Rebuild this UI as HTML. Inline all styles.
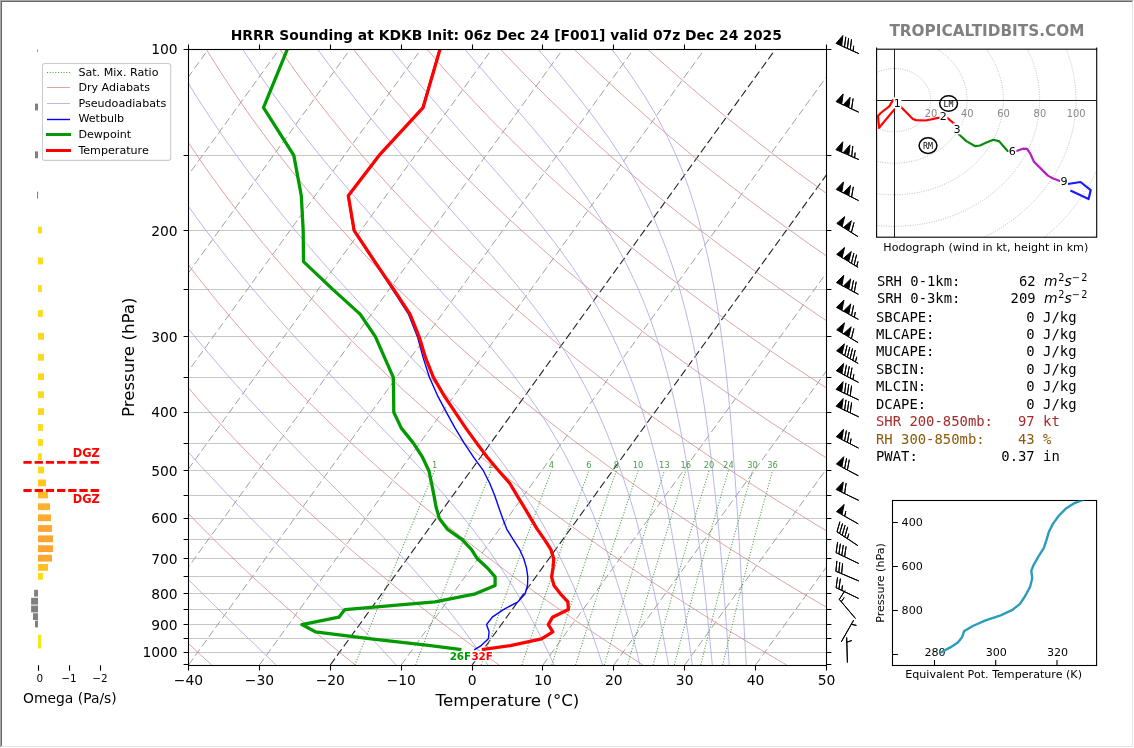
<!DOCTYPE html>
<html><head><meta charset="utf-8"><title>HRRR Sounding at KDKB</title>
<style>html,body{margin:0;padding:0;background:#fff}svg{display:block;will-change:transform;opacity:0.999}</style></head>
<body>
<svg width="1134" height="748" viewBox="0 0 1134 748">
<defs><clipPath id="cm"><rect x="188.5" y="49.17" width="638.0" height="615.83"/></clipPath>
<clipPath id="ch"><rect x="876.6" y="49.2" width="220" height="188"/></clipPath>
<clipPath id="ct"><rect x="892.5" y="500.5" width="204.1" height="165"/></clipPath></defs>
<g clip-path="url(#cm)" fill="none">
<path d="M188.5 155.5H826.5M188.5 230.5H826.5M188.5 289.5H826.5M188.5 336.5H826.5M188.5 377.5H826.5M188.5 412.5H826.5M188.5 443.5H826.5M188.5 470.5H826.5M188.5 495.5H826.5M188.5 518.5H826.5M188.5 539.5H826.5M188.5 558.5H826.5M188.5 576.5H826.5M188.5 593.5H826.5M188.5 609.5H826.5M188.5 624.5H826.5M188.5 638.5H826.5M188.5 652.5H826.5" stroke="#c6c6c6" stroke-width="1"/>
<path d="M-449.5 665.0L-4.3 49.2M-378.6 665.0L66.6 49.2M-307.7 665.0L137.5 49.2M-236.8 665.0L208.4 49.2M-165.9 665.0L279.3 49.2M-95.1 665.0L350.2 49.2M-24.2 665.0L421.1 49.2M46.7 665.0L492.0 49.2M117.6 665.0L562.9 49.2M188.5 665.0L633.7 49.2M259.4 665.0L704.6 49.2M401.2 665.0L846.4 49.2M542.9 665.0L988.2 49.2M613.8 665.0L1059.1 49.2M684.7 665.0L1130.0 49.2M755.6 665.0L1200.9 49.2M826.5 665.0L1271.7 49.2" stroke="#a0a0a0" stroke-width="1" stroke-dasharray="7.9 3.6"/>
<path d="M330.3 665.0L775.5 49.2M472.1 665.0L917.3 49.2" stroke="#222" stroke-width="1.1" stroke-dasharray="7.9 3.6"/>
<path d="M211.7 665.0 L208.9 662.5 L206.1 660.0 L203.4 657.4 L200.6 654.8 L197.7 652.2 L194.9 649.6 L192.1 646.9 L189.2 644.2 L186.4 641.5 L183.5 638.8 L180.6 636.0 L177.7 633.2 L174.7 630.4 L171.8 627.5 L168.8 624.6 L165.8 621.7 L162.8 618.7 L159.8 615.7 L156.8 612.7 L153.7 609.6 L150.6 606.5 L147.5 603.4 L144.4 600.2 L141.3 597.0 L138.2 593.8 L135.0 590.5 L131.8 587.1 L128.6 583.8 L125.4 580.3 L122.1 576.9 L118.8 573.4 L115.6 569.8 L112.2 566.2 L108.9 562.5 L105.5 558.8 L102.1 555.0 L98.7 551.2 L95.3 547.3 L91.8 543.4 L88.4 539.4 L84.9 535.3 L81.3 531.2 L77.8 527.0 L74.2 522.8 L70.5 518.4 L66.9 514.0 L63.2 509.5 L59.5 505.0 L55.8 500.4 L52.0 495.6 L48.2 490.8 L44.4 485.9 L40.5 480.9 L36.6 475.9 L32.7 470.7 L28.8 465.4 L24.8 460.0 L20.7 454.5 L16.7 448.8 L12.5 443.1 L8.4 437.2 L4.2 431.2 L-0.0 425.0 L-4.3 418.7 L-8.6 412.2 L-13.0 405.6 L-17.4 398.8 L-21.8 391.8 L-26.3 384.6 L-30.9 377.3 L-35.4 369.7 L-40.1 361.9 L-44.8 353.8 L-49.5 345.5 L-54.3 336.9 L-59.2 328.0 L-64.1 318.8 L-69.1 309.3 L-74.1 299.4 L-79.2 289.1 L-84.3 278.5 L-89.6 267.3 L-94.8 255.7 L-100.2 243.5 L-105.5 230.7 L-111.0 217.3 L-116.5 203.1 L-122.1 188.1 L-127.7 172.3 L-133.3 155.4 L-139.0 137.3 L-144.7 117.9 L-150.4 96.9 L-156.0 74.1 L-161.6 49.2M355.4 665.0 L352.3 662.5 L349.1 660.0 L345.9 657.4 L342.7 654.8 L339.5 652.2 L336.3 649.6 L333.0 646.9 L329.8 644.2 L326.5 641.5 L323.2 638.8 L319.9 636.0 L316.5 633.2 L313.2 630.4 L309.8 627.5 L306.4 624.6 L303.0 621.7 L299.5 618.7 L296.1 615.7 L292.6 612.7 L289.1 609.6 L285.5 606.5 L282.0 603.4 L278.4 600.2 L274.8 597.0 L271.2 593.8 L267.6 590.5 L263.9 587.1 L260.2 583.8 L256.5 580.3 L252.7 576.9 L249.0 573.4 L245.2 569.8 L241.3 566.2 L237.5 562.5 L233.6 558.8 L229.7 555.0 L225.8 551.2 L221.8 547.3 L217.8 543.4 L213.8 539.4 L209.7 535.3 L205.6 531.2 L201.5 527.0 L197.3 522.8 L193.1 518.4 L188.9 514.0 L184.6 509.5 L180.3 505.0 L176.0 500.4 L171.6 495.6 L167.2 490.8 L162.7 485.9 L158.2 480.9 L153.7 475.9 L149.1 470.7 L144.5 465.4 L139.8 460.0 L135.1 454.5 L130.3 448.8 L125.5 443.1 L120.6 437.2 L115.7 431.2 L110.7 425.0 L105.7 418.7 L100.6 412.2 L95.4 405.6 L90.2 398.8 L85.0 391.8 L79.7 384.6 L74.3 377.3 L68.8 369.7 L63.3 361.9 L57.7 353.8 L52.0 345.5 L46.3 336.9 L40.4 328.0 L34.5 318.8 L28.5 309.3 L22.5 299.4 L16.3 289.1 L10.1 278.5 L3.7 267.3 L-2.7 255.7 L-9.3 243.5 L-15.9 230.7 L-22.7 217.3 L-29.5 203.1 L-36.5 188.1 L-43.6 172.3 L-50.7 155.4 L-58.0 137.3 L-65.4 117.9 L-72.9 96.9 L-80.4 74.1 L-88.0 49.2M499.2 665.0 L495.6 662.5 L492.1 660.0 L488.5 657.4 L484.9 654.8 L481.3 652.2 L477.7 649.6 L474.0 646.9 L470.3 644.2 L466.6 641.5 L462.9 638.8 L459.2 636.0 L455.4 633.2 L451.6 630.4 L447.8 627.5 L444.0 624.6 L440.1 621.7 L436.2 618.7 L432.3 615.7 L428.4 612.7 L424.4 609.6 L420.5 606.5 L416.4 603.4 L412.4 600.2 L408.3 597.0 L404.2 593.8 L400.1 590.5 L396.0 587.1 L391.8 583.8 L387.6 580.3 L383.4 576.9 L379.1 573.4 L374.8 569.8 L370.4 566.2 L366.1 562.5 L361.7 558.8 L357.2 555.0 L352.8 551.2 L348.3 547.3 L343.7 543.4 L339.2 539.4 L334.5 535.3 L329.9 531.2 L325.2 527.0 L320.5 522.8 L315.7 518.4 L310.9 514.0 L306.0 509.5 L301.1 505.0 L296.2 500.4 L291.2 495.6 L286.1 490.8 L281.0 485.9 L275.9 480.9 L270.7 475.9 L265.4 470.7 L260.1 465.4 L254.8 460.0 L249.4 454.5 L243.9 448.8 L238.4 443.1 L232.8 437.2 L227.1 431.2 L221.4 425.0 L215.6 418.7 L209.8 412.2 L203.9 405.6 L197.8 398.8 L191.8 391.8 L185.6 384.6 L179.4 377.3 L173.1 369.7 L166.6 361.9 L160.1 353.8 L153.5 345.5 L146.9 336.9 L140.1 328.0 L133.2 318.8 L126.2 309.3 L119.0 299.4 L111.8 289.1 L104.5 278.5 L97.0 267.3 L89.4 255.7 L81.6 243.5 L73.7 230.7 L65.6 217.3 L57.4 203.1 L49.1 188.1 L40.5 172.3 L31.8 155.4 L22.9 137.3 L13.9 117.9 L4.6 96.9 L-4.8 74.1 L-14.5 49.2M642.9 665.0 L639.0 662.5 L635.1 660.0 L631.1 657.4 L627.1 654.8 L623.1 652.2 L619.0 649.6 L615.0 646.9 L610.9 644.2 L606.8 641.5 L602.6 638.8 L598.5 636.0 L594.3 633.2 L590.1 630.4 L585.8 627.5 L581.6 624.6 L577.3 621.7 L572.9 618.7 L568.6 615.7 L564.2 612.7 L559.8 609.6 L555.4 606.5 L550.9 603.4 L546.4 600.2 L541.9 597.0 L537.3 593.8 L532.7 590.5 L528.1 587.1 L523.4 583.8 L518.7 580.3 L514.0 576.9 L509.2 573.4 L504.4 569.8 L499.6 566.2 L494.7 562.5 L489.8 558.8 L484.8 555.0 L479.8 551.2 L474.8 547.3 L469.7 543.4 L464.6 539.4 L459.4 535.3 L454.2 531.2 L448.9 527.0 L443.6 522.8 L438.3 518.4 L432.9 514.0 L427.4 509.5 L421.9 505.0 L416.3 500.4 L410.7 495.6 L405.1 490.8 L399.3 485.9 L393.6 480.9 L387.7 475.9 L381.8 470.7 L375.8 465.4 L369.8 460.0 L363.7 454.5 L357.5 448.8 L351.3 443.1 L345.0 437.2 L338.6 431.2 L332.1 425.0 L325.6 418.7 L319.0 412.2 L312.3 405.6 L305.5 398.8 L298.6 391.8 L291.6 384.6 L284.5 377.3 L277.3 369.7 L270.0 361.9 L262.6 353.8 L255.1 345.5 L247.5 336.9 L239.7 328.0 L231.8 318.8 L223.8 309.3 L215.6 299.4 L207.3 289.1 L198.9 278.5 L190.2 267.3 L181.4 255.7 L172.5 243.5 L163.3 230.7 L154.0 217.3 L144.4 203.1 L134.6 188.1 L124.6 172.3 L114.4 155.4 L103.9 137.3 L93.1 117.9 L82.1 96.9 L70.7 74.1 L59.1 49.2M786.7 665.0 L782.4 662.5 L778.0 660.0 L773.7 657.4 L769.3 654.8 L764.9 652.2 L760.4 649.6 L755.9 646.9 L751.4 644.2 L746.9 641.5 L742.4 638.8 L737.8 636.0 L733.2 633.2 L728.5 630.4 L723.8 627.5 L719.1 624.6 L714.4 621.7 L709.6 618.7 L704.8 615.7 L700.0 612.7 L695.2 609.6 L690.3 606.5 L685.3 603.4 L680.4 600.2 L675.4 597.0 L670.3 593.8 L665.3 590.5 L660.1 587.1 L655.0 583.8 L649.8 580.3 L644.6 576.9 L639.3 573.4 L634.0 569.8 L628.7 566.2 L623.3 562.5 L617.8 558.8 L612.3 555.0 L606.8 551.2 L601.2 547.3 L595.6 543.4 L590.0 539.4 L584.2 535.3 L578.5 531.2 L572.6 527.0 L566.8 522.8 L560.8 518.4 L554.8 514.0 L548.8 509.5 L542.7 505.0 L536.5 500.4 L530.3 495.6 L524.0 490.8 L517.6 485.9 L511.2 480.9 L504.7 475.9 L498.2 470.7 L491.5 465.4 L484.8 460.0 L478.0 454.5 L471.2 448.8 L464.2 443.1 L457.2 437.2 L450.1 431.2 L442.9 425.0 L435.6 418.7 L428.2 412.2 L420.7 405.6 L413.1 398.8 L405.4 391.8 L397.5 384.6 L389.6 377.3 L381.6 369.7 L373.4 361.9 L365.1 353.8 L356.6 345.5 L348.1 336.9 L339.3 328.0 L330.4 318.8 L321.4 309.3 L312.2 299.4 L302.8 289.1 L293.3 278.5 L283.5 267.3 L273.5 255.7 L263.3 243.5 L252.9 230.7 L242.3 217.3 L231.4 203.1 L220.2 188.1 L208.7 172.3 L197.0 155.4 L184.8 137.3 L172.4 117.9 L159.5 96.9 L146.3 74.1 L132.6 49.2M930.5 665.0 L925.8 662.5 L921.0 660.0 L916.3 657.4 L911.5 654.8 L906.6 652.2 L901.8 649.6 L896.9 646.9 L892.0 644.2 L887.0 641.5 L882.1 638.8 L877.1 636.0 L872.0 633.2 L867.0 630.4 L861.9 627.5 L856.7 624.6 L851.6 621.7 L846.3 618.7 L841.1 615.7 L835.8 612.7 L830.5 609.6 L825.2 606.5 L819.8 603.4 L814.3 600.2 L808.9 597.0 L803.4 593.8 L797.8 590.5 L792.2 587.1 L786.6 583.8 L780.9 580.3 L775.2 576.9 L769.4 573.4 L763.6 569.8 L757.8 566.2 L751.9 562.5 L745.9 558.8 L739.9 555.0 L733.8 551.2 L727.7 547.3 L721.6 543.4 L715.3 539.4 L709.1 535.3 L702.7 531.2 L696.4 527.0 L689.9 522.8 L683.4 518.4 L676.8 514.0 L670.2 509.5 L663.5 505.0 L656.7 500.4 L649.9 495.6 L642.9 490.8 L636.0 485.9 L628.9 480.9 L621.8 475.9 L614.5 470.7 L607.2 465.4 L599.8 460.0 L592.4 454.5 L584.8 448.8 L577.1 443.1 L569.4 437.2 L561.5 431.2 L553.6 425.0 L545.5 418.7 L537.4 412.2 L529.1 405.6 L520.7 398.8 L512.2 391.8 L503.5 384.6 L494.7 377.3 L485.8 369.7 L476.7 361.9 L467.5 353.8 L458.2 345.5 L448.7 336.9 L439.0 328.0 L429.1 318.8 L419.0 309.3 L408.8 299.4 L398.3 289.1 L387.7 278.5 L376.8 267.3 L365.6 255.7 L354.2 243.5 L342.6 230.7 L330.6 217.3 L318.3 203.1 L305.8 188.1 L292.8 172.3 L279.5 155.4 L265.8 137.3 L251.6 117.9 L237.0 96.9 L221.9 74.1 L206.2 49.2M1074.2 665.0 L1069.1 662.5 L1064.0 660.0 L1058.8 657.4 L1053.6 654.8 L1048.4 652.2 L1043.2 649.6 L1037.9 646.9 L1032.5 644.2 L1027.2 641.5 L1021.8 638.8 L1016.4 636.0 L1010.9 633.2 L1005.4 630.4 L999.9 627.5 L994.3 624.6 L988.7 621.7 L983.1 618.7 L977.4 615.7 L971.6 612.7 L965.9 609.6 L960.1 606.5 L954.2 603.4 L948.3 600.2 L942.4 597.0 L936.4 593.8 L930.4 590.5 L924.3 587.1 L918.2 583.8 L912.0 580.3 L905.8 576.9 L899.6 573.4 L893.2 569.8 L886.9 566.2 L880.5 562.5 L874.0 558.8 L867.4 555.0 L860.9 551.2 L854.2 547.3 L847.5 543.4 L840.7 539.4 L833.9 535.3 L827.0 531.2 L820.1 527.0 L813.1 522.8 L806.0 518.4 L798.8 514.0 L791.6 509.5 L784.3 505.0 L776.9 500.4 L769.4 495.6 L761.9 490.8 L754.3 485.9 L746.6 480.9 L738.8 475.9 L730.9 470.7 L722.9 465.4 L714.9 460.0 L706.7 454.5 L698.4 448.8 L690.1 443.1 L681.6 437.2 L673.0 431.2 L664.3 425.0 L655.5 418.7 L646.6 412.2 L637.5 405.6 L628.3 398.8 L618.9 391.8 L609.5 384.6 L599.8 377.3 L590.1 369.7 L580.1 361.9 L570.0 353.8 L559.7 345.5 L549.2 336.9 L538.6 328.0 L527.7 318.8 L516.7 309.3 L505.4 299.4 L493.8 289.1 L482.1 278.5 L470.0 267.3 L457.7 255.7 L445.1 243.5 L432.2 230.7 L418.9 217.3 L405.3 203.1 L391.3 188.1 L376.9 172.3 L362.1 155.4 L346.8 137.3 L330.9 117.9 L314.5 96.9 L297.5 74.1 L279.8 49.2M1218.0 665.0 L1212.5 662.5 L1207.0 660.0 L1201.4 657.4 L1195.8 654.8 L1190.2 652.2 L1184.5 649.6 L1178.8 646.9 L1173.1 644.2 L1167.3 641.5 L1161.5 638.8 L1155.7 636.0 L1149.8 633.2 L1143.9 630.4 L1137.9 627.5 L1131.9 624.6 L1125.8 621.7 L1119.8 618.7 L1113.6 615.7 L1107.5 612.7 L1101.2 609.6 L1095.0 606.5 L1088.7 603.4 L1082.3 600.2 L1075.9 597.0 L1069.5 593.8 L1063.0 590.5 L1056.4 587.1 L1049.8 583.8 L1043.1 580.3 L1036.4 576.9 L1029.7 573.4 L1022.9 569.8 L1016.0 566.2 L1009.0 562.5 L1002.1 558.8 L995.0 555.0 L987.9 551.2 L980.7 547.3 L973.5 543.4 L966.1 539.4 L958.8 535.3 L951.3 531.2 L943.8 527.0 L936.2 522.8 L928.5 518.4 L920.8 514.0 L913.0 509.5 L905.1 505.0 L897.1 500.4 L889.0 495.6 L880.8 490.8 L872.6 485.9 L864.2 480.9 L855.8 475.9 L847.3 470.7 L838.6 465.4 L829.9 460.0 L821.0 454.5 L812.1 448.8 L803.0 443.1 L793.8 437.2 L784.5 431.2 L775.0 425.0 L765.5 418.7 L755.7 412.2 L745.9 405.6 L735.9 398.8 L725.7 391.8 L715.4 384.6 L705.0 377.3 L694.3 369.7 L683.5 361.9 L672.5 353.8 L661.3 345.5 L649.8 336.9 L638.2 328.0 L626.4 318.8 L614.3 309.3 L601.9 299.4 L589.3 289.1 L576.5 278.5 L563.3 267.3 L549.8 255.7 L536.0 243.5 L521.8 230.7 L507.2 217.3 L492.3 203.1 L476.9 188.1 L461.0 172.3 L444.6 155.4 L427.7 137.3 L410.2 117.9 L392.0 96.9 L373.1 74.1 L353.3 49.2M1361.8 665.0 L1355.9 662.5 L1350.0 660.0 L1344.0 657.4 L1338.0 654.8 L1332.0 652.2 L1325.9 649.6 L1319.8 646.9 L1313.6 644.2 L1307.5 641.5 L1301.2 638.8 L1295.0 636.0 L1288.7 633.2 L1282.3 630.4 L1275.9 627.5 L1269.5 624.6 L1263.0 621.7 L1256.5 618.7 L1249.9 615.7 L1243.3 612.7 L1236.6 609.6 L1229.9 606.5 L1223.1 603.4 L1216.3 600.2 L1209.4 597.0 L1202.5 593.8 L1195.5 590.5 L1188.5 587.1 L1181.4 583.8 L1174.3 580.3 L1167.1 576.9 L1159.8 573.4 L1152.5 569.8 L1145.1 566.2 L1137.6 562.5 L1130.1 558.8 L1122.5 555.0 L1114.9 551.2 L1107.2 547.3 L1099.4 543.4 L1091.5 539.4 L1083.6 535.3 L1075.6 531.2 L1067.5 527.0 L1059.4 522.8 L1051.1 518.4 L1042.8 514.0 L1034.4 509.5 L1025.8 505.0 L1017.3 500.4 L1008.6 495.6 L999.8 490.8 L990.9 485.9 L981.9 480.9 L972.8 475.9 L963.6 470.7 L954.3 465.4 L944.9 460.0 L935.4 454.5 L925.7 448.8 L915.9 443.1 L906.0 437.2 L895.9 431.2 L885.8 425.0 L875.4 418.7 L864.9 412.2 L854.3 405.6 L843.5 398.8 L832.5 391.8 L821.4 384.6 L810.1 377.3 L798.6 369.7 L786.8 361.9 L774.9 353.8 L762.8 345.5 L750.4 336.9 L737.8 328.0 L725.0 318.8 L711.9 309.3 L698.5 299.4 L684.8 289.1 L670.9 278.5 L656.5 267.3 L641.9 255.7 L626.8 243.5 L611.4 230.7 L595.6 217.3 L579.3 203.1 L562.5 188.1 L545.1 172.3 L527.2 155.4 L508.7 137.3 L489.4 117.9 L469.5 96.9 L448.6 74.1 L426.9 49.2M1505.5 665.0 L1499.2 662.5 L1492.9 660.0 L1486.6 657.4 L1480.2 654.8 L1473.7 652.2 L1467.3 649.6 L1460.8 646.9 L1454.2 644.2 L1447.6 641.5 L1441.0 638.8 L1434.3 636.0 L1427.5 633.2 L1420.8 630.4 L1413.9 627.5 L1407.1 624.6 L1400.1 621.7 L1393.2 618.7 L1386.2 615.7 L1379.1 612.7 L1372.0 609.6 L1364.8 606.5 L1357.6 603.4 L1350.3 600.2 L1342.9 597.0 L1335.5 593.8 L1328.1 590.5 L1320.6 587.1 L1313.0 583.8 L1305.4 580.3 L1297.7 576.9 L1289.9 573.4 L1282.1 569.8 L1274.2 566.2 L1266.2 562.5 L1258.2 558.8 L1250.1 555.0 L1241.9 551.2 L1233.7 547.3 L1225.3 543.4 L1216.9 539.4 L1208.5 535.3 L1199.9 531.2 L1191.2 527.0 L1182.5 522.8 L1173.7 518.4 L1164.8 514.0 L1155.7 509.5 L1146.6 505.0 L1137.4 500.4 L1128.1 495.6 L1118.7 490.8 L1109.2 485.9 L1099.6 480.9 L1089.8 475.9 L1080.0 470.7 L1070.0 465.4 L1059.9 460.0 L1049.7 454.5 L1039.3 448.8 L1028.8 443.1 L1018.2 437.2 L1007.4 431.2 L996.5 425.0 L985.4 418.7 L974.1 412.2 L962.7 405.6 L951.1 398.8 L939.3 391.8 L927.4 384.6 L915.2 377.3 L902.8 369.7 L890.2 361.9 L877.4 353.8 L864.3 345.5 L851.0 336.9 L837.5 328.0 L823.6 318.8 L809.5 309.3 L795.1 299.4 L780.3 289.1 L765.3 278.5 L749.8 267.3 L734.0 255.7 L717.7 243.5 L701.0 230.7 L683.9 217.3 L666.2 203.1 L648.0 188.1 L629.2 172.3 L609.8 155.4 L589.6 137.3 L568.7 117.9 L546.9 96.9 L524.2 74.1 L500.4 49.2M1649.3 665.0 L1642.6 662.5 L1635.9 660.0 L1629.2 657.4 L1622.4 654.8 L1615.5 652.2 L1608.6 649.6 L1601.7 646.9 L1594.8 644.2 L1587.7 641.5 L1580.7 638.8 L1573.6 636.0 L1566.4 633.2 L1559.2 630.4 L1552.0 627.5 L1544.6 624.6 L1537.3 621.7 L1529.9 618.7 L1522.4 615.7 L1514.9 612.7 L1507.3 609.6 L1499.7 606.5 L1492.0 603.4 L1484.3 600.2 L1476.5 597.0 L1468.6 593.8 L1460.7 590.5 L1452.7 587.1 L1444.6 583.8 L1436.5 580.3 L1428.3 576.9 L1420.0 573.4 L1411.7 569.8 L1403.3 566.2 L1394.8 562.5 L1386.3 558.8 L1377.6 555.0 L1368.9 551.2 L1360.2 547.3 L1351.3 543.4 L1342.3 539.4 L1333.3 535.3 L1324.2 531.2 L1315.0 527.0 L1305.6 522.8 L1296.2 518.4 L1286.7 514.0 L1277.1 509.5 L1267.4 505.0 L1257.6 500.4 L1247.7 495.6 L1237.7 490.8 L1227.5 485.9 L1217.3 480.9 L1206.9 475.9 L1196.4 470.7 L1185.7 465.4 L1174.9 460.0 L1164.0 454.5 L1153.0 448.8 L1141.8 443.1 L1130.4 437.2 L1118.9 431.2 L1107.2 425.0 L1095.4 418.7 L1083.3 412.2 L1071.1 405.6 L1058.7 398.8 L1046.1 391.8 L1033.3 384.6 L1020.3 377.3 L1007.1 369.7 L993.6 361.9 L979.9 353.8 L965.9 345.5 L951.6 336.9 L937.1 328.0 L922.3 318.8 L907.1 309.3 L891.7 299.4 L875.8 289.1 L859.7 278.5 L843.1 267.3 L826.1 255.7 L808.6 243.5 L790.7 230.7 L772.2 217.3 L753.2 203.1 L733.6 188.1 L713.3 172.3 L692.3 155.4 L670.6 137.3 L648.0 117.9 L624.4 96.9 L599.8 74.1 L574.0 49.2M1793.0 665.0 L1786.0 662.5 L1778.9 660.0 L1771.7 657.4 L1764.5 654.8 L1757.3 652.2 L1750.0 649.6 L1742.7 646.9 L1735.3 644.2 L1727.9 641.5 L1720.4 638.8 L1712.9 636.0 L1705.3 633.2 L1697.7 630.4 L1690.0 627.5 L1682.2 624.6 L1674.4 621.7 L1666.6 618.7 L1658.7 615.7 L1650.7 612.7 L1642.7 609.6 L1634.6 606.5 L1626.4 603.4 L1618.2 600.2 L1610.0 597.0 L1601.6 593.8 L1593.2 590.5 L1584.7 587.1 L1576.2 583.8 L1567.6 580.3 L1558.9 576.9 L1550.2 573.4 L1541.3 569.8 L1532.4 566.2 L1523.4 562.5 L1514.3 558.8 L1505.2 555.0 L1496.0 551.2 L1486.6 547.3 L1477.2 543.4 L1467.7 539.4 L1458.1 535.3 L1448.5 531.2 L1438.7 527.0 L1428.8 522.8 L1418.8 518.4 L1408.7 514.0 L1398.5 509.5 L1388.2 505.0 L1377.8 500.4 L1367.3 495.6 L1356.6 490.8 L1345.8 485.9 L1334.9 480.9 L1323.9 475.9 L1312.7 470.7 L1301.4 465.4 L1289.9 460.0 L1278.3 454.5 L1266.6 448.8 L1254.7 443.1 L1242.6 437.2 L1230.3 431.2 L1217.9 425.0 L1205.3 418.7 L1192.5 412.2 L1179.5 405.6 L1166.3 398.8 L1152.9 391.8 L1139.3 384.6 L1125.4 377.3 L1111.3 369.7 L1097.0 361.9 L1082.3 353.8 L1067.4 345.5 L1052.2 336.9 L1036.7 328.0 L1020.9 318.8 L1004.8 309.3 L988.2 299.4 L971.3 289.1 L954.1 278.5 L936.3 267.3 L918.1 255.7 L899.5 243.5 L880.3 230.7 L860.5 217.3 L840.2 203.1 L819.1 188.1 L797.4 172.3 L774.9 155.4 L751.5 137.3 L727.2 117.9 L701.9 96.9 L675.4 74.1 L647.5 49.2" stroke="#d48c8c" stroke-width="0.8"/>
<path d="M276.2 665.0 L273.6 662.5 L270.9 660.0 L268.2 657.4 L265.5 654.8 L262.8 652.2 L260.0 649.6 L257.3 646.9 L254.5 644.2 L251.6 641.5 L248.8 638.8 L245.9 636.0 L243.0 633.2 L240.0 630.4 L237.1 627.5 L234.1 624.6 L231.0 621.7 L228.0 618.7 L224.9 615.7 L221.8 612.7 L218.7 609.6 L215.5 606.5 L212.3 603.4 L209.1 600.2 L205.9 597.0 L202.6 593.8 L199.3 590.5 L196.0 587.1 L192.6 583.8 L189.2 580.3 L185.8 576.9 L182.4 573.4 L178.9 569.8 L175.4 566.2 L171.9 562.5 L168.3 558.8 L164.7 555.0 L161.1 551.2 L157.5 547.3 L153.8 543.4 L150.1 539.4 L146.3 535.3 L142.6 531.2 L138.7 527.0 L134.9 522.8 L131.0 518.4 L127.1 514.0 L123.2 509.5 L119.2 505.0 L115.2 500.4 L111.1 495.6 L107.0 490.8 L102.9 485.9 L98.7 480.9 L94.5 475.9 L90.3 470.7 L86.0 465.4 L81.7 460.0 L77.3 454.5 L72.9 448.8 L68.4 443.1 L63.9 437.2 L59.4 431.2 L54.8 425.0 L50.2 418.7 L45.5 412.2 L40.7 405.6 L35.9 398.8 L31.1 391.8 L26.2 384.6 L21.2 377.3 L16.2 369.7 L11.1 361.9 L6.0 353.8 L0.7 345.5 L-4.5 336.9 L-9.9 328.0 L-15.3 318.8 L-20.7 309.3 L-26.3 299.4 L-31.9 289.1 L-37.6 278.5 L-43.4 267.3 L-49.2 255.7 L-55.1 243.5 L-61.2 230.7 L-67.3 217.3 L-73.4 203.1 L-79.7 188.1 L-86.0 172.3 L-92.4 155.4 L-98.9 137.3 L-105.4 117.9 L-112.0 96.9 L-118.6 74.1 L-125.1 49.2M396.1 665.0 L393.8 662.5 L391.5 660.0 L389.2 657.4 L386.8 654.8 L384.4 652.2 L382.0 649.6 L379.5 646.9 L377.0 644.2 L374.4 641.5 L371.8 638.8 L369.1 636.0 L366.4 633.2 L363.7 630.4 L360.9 627.5 L358.1 624.6 L355.2 621.7 L352.3 618.7 L349.3 615.7 L346.3 612.7 L343.2 609.6 L340.1 606.5 L337.0 603.4 L333.8 600.2 L330.6 597.0 L327.3 593.8 L323.9 590.5 L320.5 587.1 L317.1 583.8 L313.6 580.3 L310.1 576.9 L306.5 573.4 L302.9 569.8 L299.2 566.2 L295.4 562.5 L291.7 558.8 L287.8 555.0 L283.9 551.2 L280.0 547.3 L276.0 543.4 L272.0 539.4 L267.9 535.3 L263.8 531.2 L259.6 527.0 L255.3 522.8 L251.0 518.4 L246.7 514.0 L242.3 509.5 L237.8 505.0 L233.3 500.4 L228.8 495.6 L224.2 490.8 L219.5 485.9 L214.8 480.9 L210.0 475.9 L205.2 470.7 L200.3 465.4 L195.4 460.0 L190.4 454.5 L185.3 448.8 L180.2 443.1 L175.0 437.2 L169.7 431.2 L164.4 425.0 L159.1 418.7 L153.6 412.2 L148.1 405.6 L142.5 398.8 L136.9 391.8 L131.2 384.6 L125.4 377.3 L119.5 369.7 L113.6 361.9 L107.5 353.8 L101.4 345.5 L95.2 336.9 L88.9 328.0 L82.5 318.8 L76.1 309.3 L69.5 299.4 L62.8 289.1 L56.0 278.5 L49.1 267.3 L42.1 255.7 L35.0 243.5 L27.7 230.7 L20.3 217.3 L12.8 203.1 L5.2 188.1 L-2.6 172.3 L-10.6 155.4 L-18.6 137.3 L-26.8 117.9 L-35.2 96.9 L-43.6 74.1 L-52.2 49.2M487.9 665.0 L486.2 662.5 L484.6 660.0 L482.9 657.4 L481.1 654.8 L479.4 652.2 L477.6 649.6 L475.7 646.9 L473.8 644.2 L471.9 641.5 L470.0 638.8 L468.0 636.0 L465.9 633.2 L463.8 630.4 L461.7 627.5 L459.5 624.6 L457.3 621.7 L455.0 618.7 L452.7 615.7 L450.3 612.7 L447.8 609.6 L445.3 606.5 L442.8 603.4 L440.2 600.2 L437.5 597.0 L434.8 593.8 L432.0 590.5 L429.1 587.1 L426.2 583.8 L423.2 580.3 L420.2 576.9 L417.0 573.4 L413.8 569.8 L410.6 566.2 L407.2 562.5 L403.8 558.8 L400.3 555.0 L396.7 551.2 L393.1 547.3 L389.3 543.4 L385.5 539.4 L381.6 535.3 L377.6 531.2 L373.5 527.0 L369.4 522.8 L365.1 518.4 L360.8 514.0 L356.4 509.5 L351.9 505.0 L347.3 500.4 L342.6 495.6 L337.8 490.8 L332.9 485.9 L328.0 480.9 L322.9 475.9 L317.8 470.7 L312.5 465.4 L307.2 460.0 L301.8 454.5 L296.3 448.8 L290.7 443.1 L285.0 437.2 L279.2 431.2 L273.3 425.0 L267.3 418.7 L261.2 412.2 L255.1 405.6 L248.8 398.8 L242.4 391.8 L236.0 384.6 L229.4 377.3 L222.7 369.7 L216.0 361.9 L209.1 353.8 L202.1 345.5 L195.0 336.9 L187.7 328.0 L180.4 318.8 L172.9 309.3 L165.3 299.4 L157.6 289.1 L149.7 278.5 L141.7 267.3 L133.5 255.7 L125.1 243.5 L116.6 230.7 L108.0 217.3 L99.1 203.1 L90.1 188.1 L80.8 172.3 L71.4 155.4 L61.7 137.3 L51.8 117.9 L41.7 96.9 L31.4 74.1 L20.8 49.2M554.0 665.0 L552.9 662.5 L551.8 660.0 L550.6 657.4 L549.4 654.8 L548.2 652.2 L547.0 649.6 L545.7 646.9 L544.4 644.2 L543.1 641.5 L541.8 638.8 L540.4 636.0 L539.0 633.2 L537.6 630.4 L536.1 627.5 L534.6 624.6 L533.0 621.7 L531.4 618.7 L529.8 615.7 L528.2 612.7 L526.5 609.6 L524.7 606.5 L522.9 603.4 L521.1 600.2 L519.2 597.0 L517.2 593.8 L515.2 590.5 L513.2 587.1 L511.1 583.8 L508.9 580.3 L506.7 576.9 L504.4 573.4 L502.1 569.8 L499.6 566.2 L497.1 562.5 L494.6 558.8 L491.9 555.0 L489.2 551.2 L486.4 547.3 L483.5 543.4 L480.5 539.4 L477.4 535.3 L474.2 531.2 L470.9 527.0 L467.6 522.8 L464.1 518.4 L460.5 514.0 L456.7 509.5 L452.9 505.0 L448.9 500.4 L444.9 495.6 L440.6 490.8 L436.3 485.9 L431.8 480.9 L427.2 475.9 L422.4 470.7 L417.5 465.4 L412.5 460.0 L407.3 454.5 L401.9 448.8 L396.4 443.1 L390.8 437.2 L384.9 431.2 L379.0 425.0 L372.8 418.7 L366.5 412.2 L360.1 405.6 L353.5 398.8 L346.7 391.8 L339.8 384.6 L332.7 377.3 L325.5 369.7 L318.1 361.9 L310.5 353.8 L302.8 345.5 L294.9 336.9 L286.8 328.0 L278.6 318.8 L270.2 309.3 L261.6 299.4 L252.9 289.1 L243.9 278.5 L234.8 267.3 L225.5 255.7 L216.0 243.5 L206.2 230.7 L196.3 217.3 L186.1 203.1 L175.6 188.1 L164.9 172.3 L153.9 155.4 L142.7 137.3 L131.1 117.9 L119.2 96.9 L106.9 74.1 L94.3 49.2M602.5 665.0 L601.7 662.5 L600.9 660.0 L600.1 657.4 L599.2 654.8 L598.4 652.2 L597.5 649.6 L596.6 646.9 L595.7 644.2 L594.8 641.5 L593.8 638.8 L592.9 636.0 L591.9 633.2 L590.9 630.4 L589.8 627.5 L588.8 624.6 L587.7 621.7 L586.6 618.7 L585.4 615.7 L584.3 612.7 L583.1 609.6 L581.9 606.5 L580.6 603.4 L579.3 600.2 L578.0 597.0 L576.7 593.8 L575.3 590.5 L573.9 587.1 L572.4 583.8 L570.9 580.3 L569.3 576.9 L567.7 573.4 L566.1 569.8 L564.4 566.2 L562.6 562.5 L560.8 558.8 L559.0 555.0 L557.1 551.2 L555.1 547.3 L553.1 543.4 L551.0 539.4 L548.8 535.3 L546.6 531.2 L544.3 527.0 L541.9 522.8 L539.4 518.4 L536.8 514.0 L534.1 509.5 L531.3 505.0 L528.3 500.4 L525.3 495.6 L522.2 490.8 L518.9 485.9 L515.5 480.9 L511.9 475.9 L508.2 470.7 L504.4 465.4 L500.4 460.0 L496.2 454.5 L491.9 448.8 L487.3 443.1 L482.6 437.2 L477.6 431.2 L472.5 425.0 L467.1 418.7 L461.5 412.2 L455.6 405.6 L449.5 398.8 L443.2 391.8 L436.6 384.6 L429.8 377.3 L422.7 369.7 L415.3 361.9 L407.6 353.8 L399.7 345.5 L391.5 336.9 L383.1 328.0 L374.5 318.8 L365.5 309.3 L356.3 299.4 L346.9 289.1 L337.1 278.5 L327.1 267.3 L316.8 255.7 L306.3 243.5 L295.4 230.7 L284.3 217.3 L272.8 203.1 L261.0 188.1 L248.9 172.3 L236.4 155.4 L223.6 137.3 L210.4 117.9 L196.7 96.9 L182.7 74.1 L168.1 49.2M640.0 665.0 L639.4 662.5 L638.8 660.0 L638.2 657.4 L637.5 654.8 L636.9 652.2 L636.2 649.6 L635.5 646.9 L634.8 644.2 L634.1 641.5 L633.4 638.8 L632.7 636.0 L632.0 633.2 L631.2 630.4 L630.4 627.5 L629.7 624.6 L628.9 621.7 L628.0 618.7 L627.2 615.7 L626.3 612.7 L625.5 609.6 L624.6 606.5 L623.6 603.4 L622.7 600.2 L621.7 597.0 L620.8 593.8 L619.7 590.5 L618.7 587.1 L617.6 583.8 L616.6 580.3 L615.4 576.9 L614.3 573.4 L613.1 569.8 L611.9 566.2 L610.6 562.5 L609.3 558.8 L608.1 555.0 L606.8 551.2 L605.4 547.3 L604.0 543.4 L602.6 539.4 L601.1 535.3 L599.6 531.2 L598.0 527.0 L596.4 522.8 L594.6 518.4 L592.9 514.0 L591.0 509.5 L589.1 505.0 L587.1 500.4 L585.0 495.6 L582.9 490.8 L580.6 485.9 L578.2 480.9 L575.8 475.9 L573.2 470.7 L570.5 465.4 L567.8 460.0 L564.9 454.5 L561.8 448.8 L558.6 443.1 L555.2 437.2 L551.6 431.2 L547.9 425.0 L543.9 418.7 L539.7 412.2 L535.3 405.6 L530.6 398.8 L525.7 391.8 L520.4 384.6 L514.9 377.3 L509.0 369.7 L502.8 361.9 L496.2 353.8 L489.3 345.5 L481.9 336.9 L474.2 328.0 L466.0 318.8 L457.4 309.3 L448.4 299.4 L438.9 289.1 L429.0 278.5 L418.6 267.3 L407.8 255.7 L396.6 243.5 L384.9 230.7 L372.8 217.3 L360.3 203.1 L347.3 188.1 L333.8 172.3 L319.9 155.4 L305.5 137.3 L290.6 117.9 L275.2 96.9 L259.2 74.1 L242.6 49.2M668.6 665.0 L668.1 662.5 L667.7 660.0 L667.2 657.4 L666.7 654.8 L666.2 652.2 L665.7 649.6 L665.2 646.9 L664.7 644.2 L664.2 641.5 L663.7 638.8 L663.2 636.0 L662.6 633.2 L662.1 630.4 L661.5 627.5 L660.9 624.6 L660.3 621.7 L659.7 618.7 L659.1 615.7 L658.5 612.7 L657.9 609.6 L657.2 606.5 L656.6 603.4 L655.9 600.2 L655.2 597.0 L654.5 593.8 L653.8 590.5 L653.0 587.1 L652.2 583.8 L651.5 580.3 L650.7 576.9 L649.8 573.4 L649.0 569.8 L648.1 566.2 L647.3 562.5 L646.3 558.8 L645.4 555.0 L644.5 551.2 L643.5 547.3 L642.5 543.4 L641.5 539.4 L640.5 535.3 L639.4 531.2 L638.2 527.0 L637.1 522.8 L635.8 518.4 L634.6 514.0 L633.3 509.5 L631.9 505.0 L630.5 500.4 L629.1 495.6 L627.5 490.8 L625.9 485.9 L624.3 480.9 L622.6 475.9 L620.7 470.7 L618.9 465.4 L617.1 460.0 L615.1 454.5 L613.0 448.8 L610.8 443.1 L608.5 437.2 L606.0 431.2 L603.5 425.0 L600.7 418.7 L597.8 412.2 L594.7 405.6 L591.4 398.8 L587.9 391.8 L584.2 384.6 L580.2 377.3 L575.9 369.7 L571.3 361.9 L566.4 353.8 L561.1 345.5 L555.5 336.9 L549.4 328.0 L542.9 318.8 L535.8 309.3 L528.2 299.4 L520.1 289.1 L511.3 278.5 L501.9 267.3 L491.8 255.7 L481.0 243.5 L469.5 230.7 L457.5 217.3 L444.7 203.1 L431.2 188.1 L417.0 172.3 L402.2 155.4 L386.7 137.3 L370.5 117.9 L353.6 96.9 L336.0 74.1 L317.6 49.2M692.3 665.0 L692.0 662.5 L691.6 660.0 L691.3 657.4 L690.9 654.8 L690.6 652.2 L690.2 649.6 L689.9 646.9 L689.5 644.2 L689.1 641.5 L688.7 638.8 L688.4 636.0 L688.0 633.2 L687.6 630.4 L687.1 627.5 L686.7 624.6 L686.3 621.7 L685.9 618.7 L685.4 615.7 L685.0 612.7 L684.5 609.6 L684.1 606.5 L683.6 603.4 L683.1 600.2 L682.6 597.0 L682.1 593.8 L681.6 590.5 L681.1 587.1 L680.6 583.8 L680.0 580.3 L679.4 576.9 L678.9 573.4 L678.3 569.8 L677.7 566.2 L677.0 562.5 L676.4 558.8 L675.8 555.0 L675.1 551.2 L674.4 547.3 L673.8 543.4 L673.0 539.4 L672.3 535.3 L671.6 531.2 L670.8 527.0 L670.0 522.8 L669.1 518.4 L668.3 514.0 L667.4 509.5 L666.4 505.0 L665.5 500.4 L664.5 495.6 L663.4 490.8 L662.3 485.9 L661.2 480.9 L660.0 475.9 L658.8 470.7 L657.5 465.4 L656.2 460.0 L654.8 454.5 L653.3 448.8 L651.8 443.1 L650.2 437.2 L648.4 431.2 L646.6 425.0 L644.7 418.7 L642.7 412.2 L640.5 405.6 L638.2 398.8 L635.8 391.8 L633.1 384.6 L630.3 377.3 L627.3 369.7 L624.1 361.9 L620.6 353.8 L616.9 345.5 L612.8 336.9 L608.5 328.0 L603.7 318.8 L598.6 309.3 L593.0 299.4 L586.8 289.1 L580.0 278.5 L572.6 267.3 L564.4 255.7 L555.4 243.5 L545.4 230.7 L534.8 217.3 L523.1 203.1 L510.4 188.1 L496.6 172.3 L481.7 155.4 L465.7 137.3 L448.6 117.9 L430.5 96.9 L411.4 74.1 L391.2 49.2M712.3 665.0 L712.1 662.5 L711.8 660.0 L711.6 657.4 L711.3 654.8 L711.1 652.2 L710.8 649.6 L710.5 646.9 L710.3 644.2 L710.0 641.5 L709.7 638.8 L709.4 636.0 L709.2 633.2 L708.9 630.4 L708.6 627.5 L708.3 624.6 L708.0 621.7 L707.7 618.7 L707.4 615.7 L707.1 612.7 L706.7 609.6 L706.4 606.5 L706.1 603.4 L705.7 600.2 L705.4 597.0 L705.0 593.8 L704.7 590.5 L704.3 587.1 L703.9 583.8 L703.6 580.3 L703.2 576.9 L702.8 573.4 L702.4 569.8 L701.9 566.2 L701.5 562.5 L701.1 558.8 L700.6 555.0 L700.1 551.2 L699.6 547.3 L699.0 543.4 L698.5 539.4 L697.9 535.3 L697.3 531.2 L696.8 527.0 L696.1 522.8 L695.5 518.4 L694.9 514.0 L694.2 509.5 L693.5 505.0 L692.8 500.4 L692.0 495.6 L691.3 490.8 L690.5 485.9 L689.6 480.9 L688.8 475.9 L687.9 470.7 L687.0 465.4 L686.1 460.0 L685.1 454.5 L684.1 448.8 L683.0 443.1 L681.9 437.2 L680.7 431.2 L679.5 425.0 L678.2 418.7 L676.8 412.2 L675.3 405.6 L673.8 398.8 L672.1 391.8 L670.3 384.6 L668.4 377.3 L666.4 369.7 L664.2 361.9 L661.8 353.8 L659.2 345.5 L656.4 336.9 L653.4 328.0 L650.2 318.8 L646.6 309.3 L642.6 299.4 L638.3 289.1 L633.4 278.5 L628.1 267.3 L622.1 255.7 L615.4 243.5 L607.8 230.7 L599.8 217.3 L590.6 203.1 L580.2 188.1 L568.5 172.3 L555.3 155.4 L540.5 137.3 L524.0 117.9 L505.8 96.9 L486.0 74.1 L464.6 49.2M729.2 665.0 L729.0 662.5 L728.9 660.0 L728.7 657.4 L728.5 654.8 L728.3 652.2 L728.1 649.6 L727.9 646.9 L727.8 644.2 L727.6 641.5 L727.4 638.8 L727.2 636.0 L727.0 633.2 L726.8 630.4 L726.6 627.5 L726.3 624.6 L726.1 621.7 L725.9 618.7 L725.7 615.7 L725.5 612.7 L725.3 609.6 L725.0 606.5 L724.8 603.4 L724.6 600.2 L724.3 597.0 L724.1 593.8 L723.8 590.5 L723.6 587.1 L723.3 583.8 L723.1 580.3 L722.8 576.9 L722.5 573.4 L722.2 569.8 L722.0 566.2 L721.7 562.5 L721.4 558.8 L721.0 555.0 L720.7 551.2 L720.3 547.3 L720.0 543.4 L719.6 539.4 L719.2 535.3 L718.9 531.2 L718.5 527.0 L718.0 522.8 L717.6 518.4 L717.2 514.0 L716.7 509.5 L716.3 505.0 L715.8 500.4 L715.3 495.6 L714.8 490.8 L714.2 485.9 L713.7 480.9 L713.1 475.9 L712.5 470.7 L711.9 465.4 L711.3 460.0 L710.7 454.5 L710.0 448.8 L709.3 443.1 L708.6 437.2 L707.8 431.2 L707.0 425.0 L706.1 418.7 L705.2 412.2 L704.2 405.6 L703.2 398.8 L702.0 391.8 L700.9 384.6 L699.6 377.3 L698.2 369.7 L696.8 361.9 L695.2 353.8 L693.5 345.5 L691.7 336.9 L689.7 328.0 L687.5 318.8 L685.1 309.3 L682.5 299.4 L679.6 289.1 L676.4 278.5 L672.8 267.3 L668.8 255.7 L664.2 243.5 L659.0 230.7 L653.4 217.3 L646.9 203.1 L639.3 188.1 L630.5 172.3 L620.3 155.4 L608.3 137.3 L594.3 117.9 L578.0 96.9 L559.3 74.1 L538.1 49.2M746.3 665.0 L746.1 662.5 L746.0 660.0 L745.8 657.4 L745.7 654.8 L745.5 652.2 L745.4 649.6 L745.2 646.9 L745.1 644.2 L744.9 641.5 L744.7 638.8 L744.6 636.0 L744.4 633.2 L744.3 630.4 L744.1 627.5 L743.9 624.6 L743.8 621.7 L743.6 618.7 L743.4 615.7 L743.3 612.7 L743.1 609.6 L742.9 606.5 L742.7 603.4 L742.5 600.2 L742.4 597.0 L742.2 593.8 L742.0 590.5 L741.8 587.1 L741.6 583.8 L741.4 580.3 L741.2 576.9 L741.0 573.4 L740.8 569.8 L740.6 566.2 L740.4 562.5 L740.1 558.8 L739.9 555.0 L739.7 551.2 L739.5 547.3 L739.3 543.4 L739.0 539.4 L738.8 535.3 L738.5 531.2 L738.3 527.0 L738.0 522.8 L737.8 518.4 L737.5 514.0 L737.2 509.5 L736.9 505.0 L736.6 500.4 L736.3 495.6 L736.0 490.8 L735.6 485.9 L735.3 480.9 L734.9 475.9 L734.5 470.7 L734.2 465.4 L733.8 460.0 L733.4 454.5 L733.0 448.8 L732.6 443.1 L732.1 437.2 L731.7 431.2 L731.2 425.0 L730.6 418.7 L730.1 412.2 L729.5 405.6 L728.8 398.8 L728.1 391.8 L727.4 384.6 L726.6 377.3 L725.8 369.7 L724.9 361.9 L723.9 353.8 L722.8 345.5 L721.6 336.9 L720.4 328.0 L719.2 318.8 L717.7 309.3 L716.1 299.4 L714.4 289.1 L712.4 278.5 L710.1 267.3 L707.6 255.7 L704.7 243.5 L701.4 230.7 L697.9 217.3 L693.7 203.1 L688.8 188.1 L683.0 172.3 L676.1 155.4 L667.7 137.3 L657.6 117.9 L645.2 96.9 L630.1 74.1 L611.8 49.2" stroke="#a4a4e4" stroke-width="0.8"/>
<path d="M354.8 665.0 L355.8 662.5 L356.8 660.0 L357.8 657.4 L358.8 654.8 L359.9 652.2 L360.9 649.6 L362.0 646.9 L363.1 644.2 L364.2 641.5 L365.3 638.8 L366.4 636.0 L367.5 633.2 L368.7 630.4 L369.8 627.5 L371.0 624.6 L372.2 621.7 L373.4 618.7 L374.6 615.7 L375.8 612.7 L377.0 609.6 L378.3 606.5 L379.6 603.4 L380.9 600.2 L382.2 597.0 L383.5 593.8 L384.9 590.5 L386.2 587.1 L387.6 583.8 L389.0 580.3 L390.4 576.9 L391.9 573.4 L393.3 569.8 L394.8 566.2 L396.3 562.5 L397.9 558.8 L399.4 555.0 L401.0 551.2 L402.6 547.3 L404.2 543.4 L405.9 539.4 L407.6 535.3 L409.3 531.2 L411.0 527.0 L412.8 522.8 L414.6 518.4 L416.4 514.0 L418.3 509.5 L420.2 505.0 L422.2 500.4 L424.1 495.6 L426.2 490.8 L428.2 485.9 L430.3 480.9 L432.5 475.9 L434.7 470.7M415.7 665.0 L416.6 662.5 L417.6 660.0 L418.5 657.4 L419.5 654.8 L420.5 652.2 L421.5 649.6 L422.5 646.9 L423.5 644.2 L424.5 641.5 L425.5 638.8 L426.6 636.0 L427.6 633.2 L428.7 630.4 L429.8 627.5 L430.9 624.6 L432.0 621.7 L433.1 618.7 L434.3 615.7 L435.4 612.7 L436.6 609.6 L437.8 606.5 L439.0 603.4 L440.2 600.2 L441.4 597.0 L442.7 593.8 L443.9 590.5 L445.2 587.1 L446.5 583.8 L447.8 580.3 L449.2 576.9 L450.5 573.4 L451.9 569.8 L453.3 566.2 L454.7 562.5 L456.2 558.8 L457.7 555.0 L459.2 551.2 L460.7 547.3 L462.2 543.4 L463.8 539.4 L465.4 535.3 L467.0 531.2 L468.6 527.0 L470.3 522.8 L472.0 518.4 L473.7 514.0 L475.5 509.5 L477.3 505.0 L479.2 500.4 L481.0 495.6 L482.9 490.8 L484.9 485.9 L486.9 480.9 L488.9 475.9 L491.0 470.7M481.2 665.0 L482.1 662.5 L483.0 660.0 L483.9 657.4 L484.7 654.8 L485.7 652.2 L486.6 649.6 L487.5 646.9 L488.4 644.2 L489.4 641.5 L490.3 638.8 L491.3 636.0 L492.3 633.2 L493.3 630.4 L494.3 627.5 L495.3 624.6 L496.4 621.7 L497.4 618.7 L498.5 615.7 L499.5 612.7 L500.6 609.6 L501.7 606.5 L502.8 603.4 L504.0 600.2 L505.1 597.0 L506.3 593.8 L507.5 590.5 L508.6 587.1 L509.9 583.8 L511.1 580.3 L512.3 576.9 L513.6 573.4 L514.9 569.8 L516.2 566.2 L517.5 562.5 L518.9 558.8 L520.2 555.0 L521.6 551.2 L523.0 547.3 L524.5 543.4 L525.9 539.4 L527.4 535.3 L528.9 531.2 L530.5 527.0 L532.0 522.8 L533.6 518.4 L535.3 514.0 L536.9 509.5 L538.6 505.0 L540.3 500.4 L542.1 495.6 L543.9 490.8 L545.7 485.9 L547.6 480.9 L549.5 475.9 L551.4 470.7M521.9 665.0 L522.7 662.5 L523.5 660.0 L524.4 657.4 L525.2 654.8 L526.1 652.2 L526.9 649.6 L527.8 646.9 L528.7 644.2 L529.6 641.5 L530.5 638.8 L531.5 636.0 L532.4 633.2 L533.3 630.4 L534.3 627.5 L535.3 624.6 L536.2 621.7 L537.2 618.7 L538.2 615.7 L539.3 612.7 L540.3 609.6 L541.3 606.5 L542.4 603.4 L543.5 600.2 L544.6 597.0 L545.7 593.8 L546.8 590.5 L547.9 587.1 L549.1 583.8 L550.3 580.3 L551.5 576.9 L552.7 573.4 L553.9 569.8 L555.1 566.2 L556.4 562.5 L557.7 558.8 L559.0 555.0 L560.3 551.2 L561.7 547.3 L563.0 543.4 L564.4 539.4 L565.9 535.3 L567.3 531.2 L568.8 527.0 L570.3 522.8 L571.8 518.4 L573.3 514.0 L574.9 509.5 L576.5 505.0 L578.2 500.4 L579.9 495.6 L581.6 490.8 L583.3 485.9 L585.1 480.9 L586.9 475.9 L588.8 470.7M551.8 665.0 L552.6 662.5 L553.4 660.0 L554.2 657.4 L555.0 654.8 L555.8 652.2 L556.7 649.6 L557.5 646.9 L558.4 644.2 L559.2 641.5 L560.1 638.8 L561.0 636.0 L561.9 633.2 L562.8 630.4 L563.7 627.5 L564.6 624.6 L565.6 621.7 L566.5 618.7 L567.5 615.7 L568.5 612.7 L569.5 609.6 L570.5 606.5 L571.5 603.4 L572.5 600.2 L573.6 597.0 L574.7 593.8 L575.7 590.5 L576.8 587.1 L577.9 583.8 L579.1 580.3 L580.2 576.9 L581.4 573.4 L582.6 569.8 L583.8 566.2 L585.0 562.5 L586.2 558.8 L587.5 555.0 L588.8 551.2 L590.1 547.3 L591.4 543.4 L592.7 539.4 L594.1 535.3 L595.5 531.2 L596.9 527.0 L598.4 522.8 L599.8 518.4 L601.3 514.0 L602.9 509.5 L604.4 505.0 L606.0 500.4 L607.6 495.6 L609.3 490.8 L611.0 485.9 L612.7 480.9 L614.5 475.9 L616.3 470.7M575.6 665.0 L576.4 662.5 L577.1 660.0 L577.9 657.4 L578.7 654.8 L579.5 652.2 L580.3 649.6 L581.1 646.9 L582.0 644.2 L582.8 641.5 L583.6 638.8 L584.5 636.0 L585.4 633.2 L586.2 630.4 L587.1 627.5 L588.0 624.6 L588.9 621.7 L589.9 618.7 L590.8 615.7 L591.8 612.7 L592.7 609.6 L593.7 606.5 L594.7 603.4 L595.7 600.2 L596.7 597.0 L597.7 593.8 L598.8 590.5 L599.8 587.1 L600.9 583.8 L602.0 580.3 L603.1 576.9 L604.2 573.4 L605.4 569.8 L606.6 566.2 L607.7 562.5 L608.9 558.8 L610.2 555.0 L611.4 551.2 L612.7 547.3 L613.9 543.4 L615.3 539.4 L616.6 535.3 L617.9 531.2 L619.3 527.0 L620.7 522.8 L622.1 518.4 L623.6 514.0 L625.1 509.5 L626.6 505.0 L628.2 500.4 L629.7 495.6 L631.3 490.8 L633.0 485.9 L634.7 480.9 L636.4 475.9 L638.1 470.7M604.3 665.0 L605.1 662.5 L605.8 660.0 L606.5 657.4 L607.3 654.8 L608.1 652.2 L608.8 649.6 L609.6 646.9 L610.4 644.2 L611.2 641.5 L612.0 638.8 L612.8 636.0 L613.7 633.2 L614.5 630.4 L615.4 627.5 L616.2 624.6 L617.1 621.7 L618.0 618.7 L618.9 615.7 L619.8 612.7 L620.7 609.6 L621.7 606.5 L622.6 603.4 L623.6 600.2 L624.5 597.0 L625.5 593.8 L626.5 590.5 L627.6 587.1 L628.6 583.8 L629.6 580.3 L630.7 576.9 L631.8 573.4 L632.9 569.8 L634.0 566.2 L635.1 562.5 L636.3 558.8 L637.5 555.0 L638.7 551.2 L639.9 547.3 L641.1 543.4 L642.4 539.4 L643.7 535.3 L645.0 531.2 L646.3 527.0 L647.6 522.8 L649.0 518.4 L650.4 514.0 L651.9 509.5 L653.3 505.0 L654.8 500.4 L656.3 495.6 L657.9 490.8 L659.5 485.9 L661.1 480.9 L662.7 475.9 L664.4 470.7M627.6 665.0 L628.3 662.5 L629.0 660.0 L629.7 657.4 L630.5 654.8 L631.2 652.2 L631.9 649.6 L632.7 646.9 L633.4 644.2 L634.2 641.5 L635.0 638.8 L635.8 636.0 L636.6 633.2 L637.4 630.4 L638.2 627.5 L639.1 624.6 L639.9 621.7 L640.8 618.7 L641.6 615.7 L642.5 612.7 L643.4 609.6 L644.3 606.5 L645.2 603.4 L646.1 600.2 L647.1 597.0 L648.0 593.8 L649.0 590.5 L650.0 587.1 L651.0 583.8 L652.0 580.3 L653.0 576.9 L654.1 573.4 L655.2 569.8 L656.2 566.2 L657.3 562.5 L658.5 558.8 L659.6 555.0 L660.7 551.2 L661.9 547.3 L663.1 543.4 L664.3 539.4 L665.6 535.3 L666.8 531.2 L668.1 527.0 L669.4 522.8 L670.8 518.4 L672.1 514.0 L673.5 509.5 L674.9 505.0 L676.4 500.4 L677.9 495.6 L679.4 490.8 L680.9 485.9 L682.5 480.9 L684.1 475.9 L685.7 470.7M653.1 665.0 L653.8 662.5 L654.5 660.0 L655.2 657.4 L655.9 654.8 L656.6 652.2 L657.3 649.6 L658.0 646.9 L658.7 644.2 L659.5 641.5 L660.2 638.8 L661.0 636.0 L661.7 633.2 L662.5 630.4 L663.3 627.5 L664.1 624.6 L664.9 621.7 L665.7 618.7 L666.6 615.7 L667.4 612.7 L668.3 609.6 L669.1 606.5 L670.0 603.4 L670.9 600.2 L671.8 597.0 L672.7 593.8 L673.7 590.5 L674.6 587.1 L675.6 583.8 L676.5 580.3 L677.5 576.9 L678.5 573.4 L679.6 569.8 L680.6 566.2 L681.7 562.5 L682.7 558.8 L683.8 555.0 L684.9 551.2 L686.1 547.3 L687.2 543.4 L688.4 539.4 L689.6 535.3 L690.8 531.2 L692.0 527.0 L693.3 522.8 L694.6 518.4 L695.9 514.0 L697.3 509.5 L698.6 505.0 L700.0 500.4 L701.4 495.6 L702.9 490.8 L704.4 485.9 L705.9 480.9 L707.5 475.9 L709.0 470.7M674.4 665.0 L675.0 662.5 L675.7 660.0 L676.3 657.4 L677.0 654.8 L677.7 652.2 L678.3 649.6 L679.0 646.9 L679.7 644.2 L680.5 641.5 L681.2 638.8 L681.9 636.0 L682.6 633.2 L683.4 630.4 L684.2 627.5 L684.9 624.6 L685.7 621.7 L686.5 618.7 L687.3 615.7 L688.1 612.7 L688.9 609.6 L689.8 606.5 L690.6 603.4 L691.5 600.2 L692.4 597.0 L693.2 593.8 L694.1 590.5 L695.1 587.1 L696.0 583.8 L696.9 580.3 L697.9 576.9 L698.9 573.4 L699.9 569.8 L700.9 566.2 L701.9 562.5 L702.9 558.8 L704.0 555.0 L705.1 551.2 L706.2 547.3 L707.3 543.4 L708.4 539.4 L709.6 535.3 L710.7 531.2 L711.9 527.0 L713.2 522.8 L714.4 518.4 L715.7 514.0 L717.0 509.5 L718.3 505.0 L719.7 500.4 L721.0 495.6 L722.5 490.8 L723.9 485.9 L725.4 480.9 L726.9 475.9 L728.4 470.7M700.8 665.0 L701.4 662.5 L702.0 660.0 L702.7 657.4 L703.3 654.8 L703.9 652.2 L704.6 649.6 L705.2 646.9 L705.9 644.2 L706.6 641.5 L707.3 638.8 L708.0 636.0 L708.7 633.2 L709.4 630.4 L710.1 627.5 L710.9 624.6 L711.6 621.7 L712.4 618.7 L713.1 615.7 L713.9 612.7 L714.7 609.6 L715.5 606.5 L716.3 603.4 L717.1 600.2 L717.9 597.0 L718.8 593.8 L719.7 590.5 L720.5 587.1 L721.4 583.8 L722.3 580.3 L723.2 576.9 L724.2 573.4 L725.1 569.8 L726.1 566.2 L727.1 562.5 L728.1 558.8 L729.1 555.0 L730.1 551.2 L731.1 547.3 L732.2 543.4 L733.3 539.4 L734.4 535.3 L735.5 531.2 L736.7 527.0 L737.9 522.8 L739.1 518.4 L740.3 514.0 L741.5 509.5 L742.8 505.0 L744.1 500.4 L745.4 495.6 L746.8 490.8 L748.2 485.9 L749.6 480.9 L751.1 475.9 L752.5 470.7M722.7 665.0 L723.3 662.5 L723.9 660.0 L724.5 657.4 L725.1 654.8 L725.7 652.2 L726.4 649.6 L727.0 646.9 L727.6 644.2 L728.3 641.5 L728.9 638.8 L729.6 636.0 L730.3 633.2 L731.0 630.4 L731.7 627.5 L732.4 624.6 L733.1 621.7 L733.8 618.7 L734.5 615.7 L735.3 612.7 L736.0 609.6 L736.8 606.5 L737.6 603.4 L738.4 600.2 L739.2 597.0 L740.0 593.8 L740.8 590.5 L741.7 587.1 L742.5 583.8 L743.4 580.3 L744.3 576.9 L745.1 573.4 L746.1 569.8 L747.0 566.2 L747.9 562.5 L748.9 558.8 L749.9 555.0 L750.9 551.2 L751.9 547.3 L752.9 543.4 L753.9 539.4 L755.0 535.3 L756.1 531.2 L757.2 527.0 L758.3 522.8 L759.5 518.4 L760.7 514.0 L761.9 509.5 L763.1 505.0 L764.4 500.4 L765.7 495.6 L767.0 490.8 L768.3 485.9 L769.7 480.9 L771.1 475.9 L772.5 470.7" stroke="#4a9e4a" stroke-width="1.05" stroke-dasharray="1.05 1.7"/>
</g>
<text x="434.7" y="468" text-anchor="middle" style="font-family:'DejaVu Sans','Liberation Sans',sans-serif;font-size:8.33px" fill="#4a9e4a">1</text>
<text x="491.0" y="468" text-anchor="middle" style="font-family:'DejaVu Sans','Liberation Sans',sans-serif;font-size:8.33px" fill="#4a9e4a">2</text>
<text x="551.4" y="468" text-anchor="middle" style="font-family:'DejaVu Sans','Liberation Sans',sans-serif;font-size:8.33px" fill="#4a9e4a">4</text>
<text x="588.8" y="468" text-anchor="middle" style="font-family:'DejaVu Sans','Liberation Sans',sans-serif;font-size:8.33px" fill="#4a9e4a">6</text>
<text x="616.3" y="468" text-anchor="middle" style="font-family:'DejaVu Sans','Liberation Sans',sans-serif;font-size:8.33px" fill="#4a9e4a">8</text>
<text x="638.1" y="468" text-anchor="middle" style="font-family:'DejaVu Sans','Liberation Sans',sans-serif;font-size:8.33px" fill="#4a9e4a">10</text>
<text x="664.4" y="468" text-anchor="middle" style="font-family:'DejaVu Sans','Liberation Sans',sans-serif;font-size:8.33px" fill="#4a9e4a">13</text>
<text x="685.7" y="468" text-anchor="middle" style="font-family:'DejaVu Sans','Liberation Sans',sans-serif;font-size:8.33px" fill="#4a9e4a">16</text>
<text x="709.0" y="468" text-anchor="middle" style="font-family:'DejaVu Sans','Liberation Sans',sans-serif;font-size:8.33px" fill="#4a9e4a">20</text>
<text x="728.4" y="468" text-anchor="middle" style="font-family:'DejaVu Sans','Liberation Sans',sans-serif;font-size:8.33px" fill="#4a9e4a">24</text>
<text x="752.5" y="468" text-anchor="middle" style="font-family:'DejaVu Sans','Liberation Sans',sans-serif;font-size:8.33px" fill="#4a9e4a">30</text>
<text x="772.5" y="468" text-anchor="middle" style="font-family:'DejaVu Sans','Liberation Sans',sans-serif;font-size:8.33px" fill="#4a9e4a">36</text>
<g clip-path="url(#cm)" fill="none" stroke-linejoin="round">
<path d="M439.5 49.2 L422.3 107.6 L378.5 155.4 L347.8 195.7 L353.6 230.7 L374.0 261.6 L392.3 289.1 L408.4 314.1 L417.5 336.9 L423.2 357.9 L429.4 377.3 L437.4 395.3 L446.3 412.2 L455.1 428.1 L464.2 443.1 L473.5 457.2 L483.4 470.7 L489.8 483.5 L494.7 495.6 L498.7 507.3 L502.7 518.4 L506.7 529.1 L513.1 539.4 L519.5 549.3 L523.8 558.8 L526.5 568.0 L527.8 576.9 L527.5 585.5 L525.1 593.8 L517.9 601.8 L503.4 609.6 L492.2 617.2 L486.5 624.6 L489.1 631.8 L488.4 638.8 L481.2 645.6 L474.1 649.9" stroke="#0000ff" stroke-width="1.4"/>
<path d="M287.4 49.2 L263.5 107.6 L293.8 155.4 L301.3 195.7 L303.2 230.7 L303.5 261.6 L332.5 289.1 L360.1 314.1 L375.5 336.9 L384.7 357.9 L393.3 377.3 L393.6 395.3 L393.8 412.2 L401.3 428.1 L413.4 443.1 L422.5 457.2 L428.9 470.7 L431.6 483.5 L434.0 495.6 L436.1 507.3 L439.3 518.4 L447.3 529.1 L461.8 539.4 L471.4 549.3 L477.4 558.8 L487.4 568.0 L495.1 576.9 L495.1 585.5 L475.4 593.8 L435.0 601.8 L344.8 609.6 L338.9 617.2 L301.9 624.6 L315.4 631.8 L371.1 638.8 L430.6 645.6 L461.4 649.6" stroke="#009a00" stroke-width="3.3"/>
<path d="M440.0 49.2 L423.1 107.6 L379.1 155.4 L348.3 195.7 L354.2 230.7 L374.8 261.6 L393.5 289.1 L410.0 314.1 L419.2 336.9 L425.6 357.9 L433.4 377.3 L443.9 395.3 L455.1 412.2 L465.8 428.1 L476.7 443.1 L487.3 457.2 L498.7 470.7 L509.9 483.5 L517.1 495.6 L524.3 507.3 L530.8 518.4 L537.2 529.1 L544.4 539.4 L550.8 549.3 L553.7 558.8 L553.0 568.0 L551.6 576.9 L554.0 585.5 L560.4 593.8 L567.9 601.8 L568.4 609.6 L552.5 617.2 L548.3 624.6 L552.8 631.8 L541.5 638.8 L510.3 645.6 L481.8 649.6" stroke="#ff0000" stroke-width="3.3"/>
</g>
<text x="471.2" y="660.1" text-anchor="end" style="font-family:'DejaVu Sans','Liberation Sans',sans-serif;font-size:10.4px;font-weight:bold;paint-order:stroke" stroke="#fff" stroke-width="2.5" fill="#009a00">26F</text>
<text x="471.4" y="660.1" style="font-family:'DejaVu Sans','Liberation Sans',sans-serif;font-size:10.4px;font-weight:bold;paint-order:stroke" stroke="#fff" stroke-width="2.5" fill="#ff0000">32F</text>
<rect x="188.5" y="49.5" width="638.0" height="616.0" fill="none" stroke="#000" stroke-width="1.1"/>
<path d="M188.5 665.5v4.9M188.5 49.5v-4.9M259.5 665.5v4.9M259.5 49.5v-4.9M330.5 665.5v4.9M330.5 49.5v-4.9M401.5 665.5v4.9M401.5 49.5v-4.9M472.5 665.5v4.9M472.5 49.5v-4.9M542.5 665.5v4.9M542.5 49.5v-4.9M613.5 665.5v4.9M613.5 49.5v-4.9M684.5 665.5v4.9M684.5 49.5v-4.9M755.5 665.5v4.9M755.5 49.5v-4.9M826.5 665.5v4.9M826.5 49.5v-4.9M188.5 49.5h-4.9M826.5 49.5h4.9M188.5 155.5h-4.9M826.5 155.5h4.9M188.5 230.5h-4.9M826.5 230.5h4.9M188.5 289.5h-4.9M826.5 289.5h4.9M188.5 336.5h-4.9M826.5 336.5h4.9M188.5 377.5h-4.9M826.5 377.5h4.9M188.5 412.5h-4.9M826.5 412.5h4.9M188.5 443.5h-4.9M826.5 443.5h4.9M188.5 470.5h-4.9M826.5 470.5h4.9M188.5 495.5h-4.9M826.5 495.5h4.9M188.5 518.5h-4.9M826.5 518.5h4.9M188.5 539.5h-4.9M826.5 539.5h4.9M188.5 558.5h-4.9M826.5 558.5h4.9M188.5 576.5h-4.9M826.5 576.5h4.9M188.5 593.5h-4.9M826.5 593.5h4.9M188.5 609.5h-4.9M826.5 609.5h4.9M188.5 624.5h-4.9M826.5 624.5h4.9M188.5 638.5h-4.9M826.5 638.5h4.9M188.5 652.5h-4.9M826.5 652.5h4.9M188.5 664.5h-4.9M826.5 664.5h4.9" stroke="#000" stroke-width="1.1" fill="none"/>
<text x="188.5" y="684.9" text-anchor="middle" style="font-family:'DejaVu Sans','Liberation Sans',sans-serif;font-size:13.89px">−40</text>
<text x="259.4" y="684.9" text-anchor="middle" style="font-family:'DejaVu Sans','Liberation Sans',sans-serif;font-size:13.89px">−30</text>
<text x="330.3" y="684.9" text-anchor="middle" style="font-family:'DejaVu Sans','Liberation Sans',sans-serif;font-size:13.89px">−20</text>
<text x="401.2" y="684.9" text-anchor="middle" style="font-family:'DejaVu Sans','Liberation Sans',sans-serif;font-size:13.89px">−10</text>
<text x="472.1" y="684.9" text-anchor="middle" style="font-family:'DejaVu Sans','Liberation Sans',sans-serif;font-size:13.89px">0</text>
<text x="542.9" y="684.9" text-anchor="middle" style="font-family:'DejaVu Sans','Liberation Sans',sans-serif;font-size:13.89px">10</text>
<text x="613.8" y="684.9" text-anchor="middle" style="font-family:'DejaVu Sans','Liberation Sans',sans-serif;font-size:13.89px">20</text>
<text x="684.7" y="684.9" text-anchor="middle" style="font-family:'DejaVu Sans','Liberation Sans',sans-serif;font-size:13.89px">30</text>
<text x="755.6" y="684.9" text-anchor="middle" style="font-family:'DejaVu Sans','Liberation Sans',sans-serif;font-size:13.89px">40</text>
<text x="826.5" y="684.9" text-anchor="middle" style="font-family:'DejaVu Sans','Liberation Sans',sans-serif;font-size:13.89px">50</text>
<text x="177.7" y="54.1" text-anchor="end" style="font-family:'DejaVu Sans','Liberation Sans',sans-serif;font-size:13.89px">100</text>
<text x="177.7" y="235.6" text-anchor="end" style="font-family:'DejaVu Sans','Liberation Sans',sans-serif;font-size:13.89px">200</text>
<text x="177.7" y="341.8" text-anchor="end" style="font-family:'DejaVu Sans','Liberation Sans',sans-serif;font-size:13.89px">300</text>
<text x="177.7" y="417.1" text-anchor="end" style="font-family:'DejaVu Sans','Liberation Sans',sans-serif;font-size:13.89px">400</text>
<text x="177.7" y="475.6" text-anchor="end" style="font-family:'DejaVu Sans','Liberation Sans',sans-serif;font-size:13.89px">500</text>
<text x="177.7" y="523.3" text-anchor="end" style="font-family:'DejaVu Sans','Liberation Sans',sans-serif;font-size:13.89px">600</text>
<text x="177.7" y="563.7" text-anchor="end" style="font-family:'DejaVu Sans','Liberation Sans',sans-serif;font-size:13.89px">700</text>
<text x="177.7" y="598.7" text-anchor="end" style="font-family:'DejaVu Sans','Liberation Sans',sans-serif;font-size:13.89px">800</text>
<text x="177.7" y="629.5" text-anchor="end" style="font-family:'DejaVu Sans','Liberation Sans',sans-serif;font-size:13.89px">900</text>
<text x="177.7" y="657.1" text-anchor="end" style="font-family:'DejaVu Sans','Liberation Sans',sans-serif;font-size:13.89px">1000</text>
<text x="507.5" y="705.7" text-anchor="middle" style="font-family:'DejaVu Sans','Liberation Sans',sans-serif;font-size:16.67px">Temperature (°C)</text>
<text transform="translate(134.3 357.3) rotate(-90)" text-anchor="middle" style="font-family:'DejaVu Sans','Liberation Sans',sans-serif;font-size:16.67px">Pressure (hPa)</text>
<text x="506.3" y="39.7" text-anchor="middle" style="font-family:'DejaVu Sans','Liberation Sans',sans-serif;font-size:13.89px;font-weight:bold">HRRR Sounding at KDKB Init: 06z Dec 24 [F001] valid 07z Dec 24 2025</text>
<rect x="42.5" y="63.5" width="128.2" height="96.9" rx="2.5" fill="#fff" fill-opacity="0.8" stroke="#ccc" stroke-width="1.1"/>
<path d="M47 72.5H70" stroke="#4a9e4a" stroke-width="1.05" stroke-dasharray="1.05 1.7" fill="none"/>
<text x="78.4" y="75.6" style="font-family:'DejaVu Sans','Liberation Sans',sans-serif;font-size:11.11px">Sat. Mix. Ratio</text>
<path d="M47 87.5H70" stroke="#d48c8c" stroke-width="0.8" fill="none"/>
<text x="78.4" y="90.9" style="font-family:'DejaVu Sans','Liberation Sans',sans-serif;font-size:11.11px">Dry Adiabats</text>
<path d="M47 103.5H70" stroke="#a4a4e4" stroke-width="0.8" fill="none"/>
<text x="78.4" y="106.6" style="font-family:'DejaVu Sans','Liberation Sans',sans-serif;font-size:11.11px">Pseudoadiabats</text>
<path d="M47 119.5H70" stroke="#0000ff" stroke-width="1.4" fill="none"/>
<text x="78.4" y="122.0" style="font-family:'DejaVu Sans','Liberation Sans',sans-serif;font-size:11.11px">Wetbulb</text>
<path d="M46 134.5H71" stroke="#009a00" stroke-width="3" fill="none"/>
<text x="78.4" y="137.6" style="font-family:'DejaVu Sans','Liberation Sans',sans-serif;font-size:11.11px">Dewpoint</text>
<path d="M46 150.5H71" stroke="#ff0000" stroke-width="3" fill="none"/>
<text x="78.4" y="153.5" style="font-family:'DejaVu Sans','Liberation Sans',sans-serif;font-size:11.11px">Temperature</text>
<rect x="37.2" y="49.3" width="0.8" height="2.7" fill="#808080"/>
<rect x="35.0" y="103.6" width="3.0" height="6.8" fill="#808080"/>
<rect x="35.0" y="151.4" width="3.0" height="6.8" fill="#808080"/>
<rect x="37.0" y="191.7" width="1.1" height="6.8" fill="#808080"/>
<rect x="38.0" y="226.7" width="3.9" height="6.8" fill="#fbdc19"/>
<rect x="38.0" y="257.6" width="4.9" height="6.8" fill="#fbdc19"/>
<rect x="38.0" y="285.1" width="3.9" height="6.8" fill="#fbdc19"/>
<rect x="38.0" y="310.1" width="4.9" height="6.8" fill="#fbdc19"/>
<rect x="38.0" y="332.9" width="6.0" height="6.8" fill="#fad81b"/>
<rect x="38.0" y="353.9" width="6.0" height="6.8" fill="#fad81b"/>
<rect x="38.0" y="373.3" width="6.0" height="6.8" fill="#fad81b"/>
<rect x="38.0" y="391.3" width="6.0" height="6.8" fill="#fad81b"/>
<rect x="38.0" y="408.2" width="6.0" height="6.8" fill="#fad81b"/>
<rect x="38.0" y="424.1" width="4.9" height="6.8" fill="#fbdc19"/>
<rect x="38.0" y="439.1" width="4.9" height="6.8" fill="#fbdc19"/>
<rect x="38.0" y="453.2" width="3.9" height="6.8" fill="#fbdc19"/>
<rect x="38.0" y="466.7" width="6.0" height="6.8" fill="#fad81b"/>
<rect x="38.0" y="479.5" width="8.0" height="6.8" fill="#fbc522"/>
<rect x="38.0" y="491.6" width="10.0" height="6.8" fill="#fcbb27"/>
<rect x="38.0" y="503.3" width="12.0" height="6.8" fill="#fdb12c"/>
<rect x="38.0" y="514.4" width="13.0" height="6.8" fill="#fdac2e"/>
<rect x="38.0" y="525.1" width="14.0" height="6.8" fill="#fda731"/>
<rect x="38.0" y="535.4" width="15.0" height="6.8" fill="#fda432"/>
<rect x="38.0" y="545.3" width="15.0" height="6.8" fill="#fda432"/>
<rect x="38.0" y="554.8" width="14.0" height="6.8" fill="#fda731"/>
<rect x="38.0" y="564.0" width="10.0" height="6.8" fill="#fcc123"/>
<rect x="38.0" y="572.9" width="5.0" height="6.8" fill="#fbdc19"/>
<rect x="34.1" y="589.8" width="3.9" height="6.8" fill="#808080"/>
<rect x="31.1" y="597.8" width="6.9" height="6.8" fill="#808080"/>
<rect x="31.1" y="605.6" width="6.9" height="6.8" fill="#808080"/>
<rect x="33.0" y="613.2" width="5.0" height="6.8" fill="#808080"/>
<rect x="35.0" y="620.6" width="3.0" height="6.8" fill="#808080"/>
<rect x="38.0" y="634.8" width="3.0" height="6.8" fill="#f3e612"/>
<rect x="38.0" y="641.6" width="3.0" height="6.8" fill="#f3e612"/>
<path d="M23.4 462.4H99" stroke="#ff0000" stroke-width="2.8" stroke-dasharray="8.3 2.9" fill="none"/>
<path d="M23.4 490.5H99" stroke="#ff0000" stroke-width="2.8" stroke-dasharray="8.3 2.9" fill="none"/>
<text x="99.8" y="456.8" text-anchor="end" style="font-family:'DejaVu Sans','Liberation Sans',sans-serif;font-size:11.4px;font-weight:bold" fill="#ff0000">DGZ</text>
<text x="99.8" y="503.3" text-anchor="end" style="font-family:'DejaVu Sans','Liberation Sans',sans-serif;font-size:11.4px;font-weight:bold" fill="#ff0000">DGZ</text>
<path d="M38.5 665.2v5.5M69.5 665.2v5.5M100.5 665.2v5.5" stroke="#000" stroke-width="1.1" fill="none"/>
<text x="39.9" y="681.6" text-anchor="middle" style="font-family:'DejaVu Sans','Liberation Sans',sans-serif;font-size:10.4px">0</text>
<text x="68.9" y="681.6" text-anchor="middle" style="font-family:'DejaVu Sans','Liberation Sans',sans-serif;font-size:10.4px">−1</text>
<text x="100.0" y="681.6" text-anchor="middle" style="font-family:'DejaVu Sans','Liberation Sans',sans-serif;font-size:10.4px">−2</text>
<text x="69.9" y="702.6" text-anchor="middle" style="font-family:'DejaVu Sans','Liberation Sans',sans-serif;font-size:13.89px">Omega (Pa/s)</text>
<path d="M858.8 53.6 L836.0 43.4 L842.9 35.5 L841.7 45.9 L844.5 47.2 L845.8 36.8 L844.5 47.2 L847.4 48.5 L848.6 38.1 L847.4 48.5 L850.3 49.7 L851.5 39.3 L850.3 49.7 L853.1 51.0 L853.7 45.8 L853.1 51.0ZM858.7 112.2 L836.1 101.6 L843.2 93.9 L841.7 104.3 L843.2 104.9 L850.2 97.2 L848.8 107.6 L851.6 108.9 L853.1 98.5 L851.6 108.9ZM858.9 159.6 L835.9 149.7 L842.8 141.8 L841.7 152.2 L843.1 152.8 L850.0 144.9 L848.8 155.3 L851.7 156.5 L852.8 146.1 L851.7 156.5 L854.6 157.8 L855.1 152.6 L854.6 157.8ZM858.6 200.6 L836.2 189.4 L843.5 181.9 L841.8 192.2 L843.2 192.9 L850.5 185.4 L848.8 195.7 L851.6 197.1 L853.3 186.8 L851.6 197.1ZM858.0 236.6 L836.8 223.4 L844.7 216.6 L842.1 226.7 L843.4 227.5 L851.4 220.7 L848.7 230.8 L851.4 232.5 L854.0 222.4 L851.4 232.5ZM858.1 267.3 L836.7 254.4 L844.6 247.4 L842.1 257.6 L843.4 258.4 L851.3 251.5 L848.7 261.7 L851.4 263.3 L853.9 253.1 L851.4 263.3 L854.1 264.9 L856.6 254.7 L854.1 264.9 L856.7 266.5 L858.0 261.4 L856.7 266.5ZM858.4 294.3 L836.4 282.6 L843.8 275.2 L841.9 285.5 L843.3 286.2 L850.7 278.9 L848.8 289.2 L851.5 290.6 L853.5 280.3 L851.5 290.6 L854.3 292.1 L856.2 281.8 L854.3 292.1ZM858.4 319.4 L836.4 307.4 L844.0 300.1 L841.9 310.4 L843.3 311.2 L850.8 303.9 L848.8 314.2 L851.5 315.7 L853.6 305.4 L851.5 315.7 L854.3 317.2 L855.3 312.0 L854.3 317.2ZM858.1 342.6 L836.7 329.8 L844.5 322.8 L842.0 333.0 L843.4 333.8 L851.2 326.8 L848.7 337.0 L851.4 338.6 L853.9 328.4 L851.4 338.6ZM858.2 363.5 L836.6 350.8 L844.4 343.8 L842.0 354.0 L844.7 355.6 L847.1 345.4 L844.7 355.6 L847.4 357.2 L849.8 347.0 L847.4 357.2 L850.1 358.7 L852.5 348.5 L850.1 358.7 L852.8 360.3 L855.2 350.1 L852.8 360.3 L855.5 361.9 L856.7 356.8 L855.5 361.9ZM858.5 382.4 L836.3 370.8 L843.7 363.4 L841.9 373.7 L844.6 375.1 L846.5 364.8 L844.6 375.1 L847.4 376.6 L849.3 366.3 L847.4 376.6 L850.2 378.0 L852.0 367.7 L850.2 378.0 L852.9 379.5 L853.9 374.3 L852.9 379.5ZM858.7 399.9 L836.1 389.4 L843.1 381.6 L841.7 392.0 L844.6 393.3 L845.9 382.9 L844.6 393.3 L847.4 394.6 L848.8 384.2 L847.4 394.6 L850.2 395.9 L851.6 385.6 L850.2 395.9ZM858.7 416.8 L836.1 406.2 L843.2 398.5 L841.7 408.9 L844.6 410.2 L846.0 399.8 L844.6 410.2 L847.4 411.5 L848.8 401.2 L847.4 411.5 L850.2 412.9 L851.6 402.5 L850.2 412.9ZM858.5 448.1 L836.3 436.7 L843.6 429.2 L841.8 439.5 L844.6 441.0 L846.4 430.6 L844.6 441.0 L847.4 442.4 L849.2 432.1 L847.4 442.4 L850.2 443.8 L851.1 438.6 L850.2 443.8ZM858.4 475.8 L836.4 464.1 L843.8 456.7 L841.9 467.0 L844.6 468.5 L846.6 458.2 L844.6 468.5 L847.4 470.0 L849.3 459.7 L847.4 470.0ZM858.7 500.4 L836.1 489.5 L843.3 481.9 L841.8 492.2 L844.6 493.6 L846.1 483.2 L844.6 493.6ZM858.3 523.9 L836.5 511.6 L844.2 504.4 L842.0 514.6 L844.7 516.2 L845.8 511.1 L844.7 516.2ZM857.8 545.6 L837.0 531.8 L839.9 521.7 L837.0 531.8 L839.6 533.5 L842.5 523.5 L839.6 533.5 L842.2 535.2 L845.1 525.2 L842.2 535.2 L844.8 537.0 L847.7 526.9 L844.8 537.0 L847.4 538.7 L848.8 533.7 L847.4 538.7ZM858.7 563.5 L836.1 552.7 L837.6 542.3 L836.1 552.7 L838.9 554.0 L840.4 543.7 L838.9 554.0 L841.8 555.4 L843.3 545.0 L841.8 555.4 L844.6 556.7 L846.1 546.4 L844.6 556.7ZM858.9 581.0 L835.9 571.3 L836.9 560.9 L835.9 571.3 L838.8 572.5 L839.8 562.1 L838.8 572.5 L841.6 573.7 L842.6 563.3 L841.6 573.7ZM858.7 598.5 L836.1 587.7 L837.6 577.3 L836.1 587.7 L838.9 589.0 L840.4 578.6 L838.9 589.0 L841.8 590.4 L842.5 585.2 L841.8 590.4ZM855.5 618.5 L839.3 599.4 L845.0 590.6 L839.3 599.4 L841.3 601.8 L844.2 597.4 L841.3 601.8ZM841.2 642.0 L853.6 620.2 L851.3 624.3 L856.4 625.4 L851.3 624.3ZM847.4 662.5 L846.7 637.5 L846.8 642.2 L851.8 640.5 L846.8 642.2Z" fill="#000" stroke="#000" stroke-width="1" stroke-linejoin="round"/>
<g clip-path="url(#ch)" fill="none">
<ellipse cx="894.45" cy="100.1" rx="36.3" ry="31.6" stroke="#adadad" stroke-width="0.9" stroke-dasharray="0.9 1.5"/>
<ellipse cx="894.45" cy="100.1" rx="72.6" ry="63.1" stroke="#adadad" stroke-width="0.9" stroke-dasharray="0.9 1.5"/>
<ellipse cx="894.45" cy="100.1" rx="108.9" ry="94.7" stroke="#adadad" stroke-width="0.9" stroke-dasharray="0.9 1.5"/>
<ellipse cx="894.45" cy="100.1" rx="145.2" ry="126.2" stroke="#adadad" stroke-width="0.9" stroke-dasharray="0.9 1.5"/>
<ellipse cx="894.45" cy="100.1" rx="181.5" ry="157.8" stroke="#adadad" stroke-width="0.9" stroke-dasharray="0.9 1.5"/>
<ellipse cx="894.45" cy="100.1" rx="217.8" ry="189.4" stroke="#adadad" stroke-width="0.9" stroke-dasharray="0.9 1.5"/>
<ellipse cx="894.45" cy="100.1" rx="254.1" ry="220.9" stroke="#adadad" stroke-width="0.9" stroke-dasharray="0.9 1.5"/>
<ellipse cx="894.45" cy="100.1" rx="290.4" ry="252.5" stroke="#adadad" stroke-width="0.9" stroke-dasharray="0.9 1.5"/>
<path d="M876.6 100.5H1096.7M894.5 49.2V237.2" stroke="#222" stroke-width="1"/>
<text x="931.0" y="116.8" text-anchor="middle" style="font-family:'DejaVu Sans','Liberation Sans',sans-serif;font-size:9.9px" fill="#888">20</text>
<text x="967.3" y="116.8" text-anchor="middle" style="font-family:'DejaVu Sans','Liberation Sans',sans-serif;font-size:9.9px" fill="#888">40</text>
<text x="1003.6" y="116.8" text-anchor="middle" style="font-family:'DejaVu Sans','Liberation Sans',sans-serif;font-size:9.9px" fill="#888">60</text>
<text x="1039.9" y="116.8" text-anchor="middle" style="font-family:'DejaVu Sans','Liberation Sans',sans-serif;font-size:9.9px" fill="#888">80</text>
<text x="1076.2" y="116.8" text-anchor="middle" style="font-family:'DejaVu Sans','Liberation Sans',sans-serif;font-size:9.9px" fill="#888">100</text>
<path d="M894.6 109.1 L879.1 127.8 L878.0 116.0 L880.7 113.0 L889.3 106.4 L893.0 100.0 L901.0 106.9 L912.8 119.0 L916.0 120.1 L925.6 120.5 L939.5 117.6 L943.6 116.0 L947.5 118.2 L954.0 123.5 L956.8 128.9" stroke="#ff0000" stroke-width="2.2" stroke-linejoin="round"/>
<path d="M956.8 128.9 L958.8 134.2 L966.3 141.1 L975.3 146.2 L980.0 145.5 L986.4 142.5 L993.4 139.8 L999.3 141.4 L1003.0 145.7 L1007.6 151.0 L1012.4 151.0" stroke="#0a8a0a" stroke-width="2.2" stroke-linejoin="round"/>
<path d="M1012.4 151.0 L1016.4 151.0 L1022.8 148.7 L1027.1 148.9 L1030.3 153.7 L1034.0 161.7 L1039.9 167.6 L1047.9 175.6 L1052.7 178.3 L1059.7 181.0 L1064.0 181.2" stroke="#b51fc2" stroke-width="2.2" stroke-linejoin="round"/>
<path d="M1064.0 181.2 L1067.9 184.0 L1080.5 182.0 L1090.7 190.1 L1088.6 199.1 L1070.4 190.6" stroke="#1a1aff" stroke-width="2.2" stroke-linejoin="round"/>
</g>
<rect x="893.4" y="97.3" width="8" height="11" fill="#fff"/>
<text x="897.4" y="106.9" text-anchor="middle" style="font-family:'DejaVu Sans','Liberation Sans',sans-serif;font-size:11.11px">1</text>
<rect x="939.4" y="110.3" width="8" height="11" fill="#fff"/>
<text x="943.4" y="119.9" text-anchor="middle" style="font-family:'DejaVu Sans','Liberation Sans',sans-serif;font-size:11.11px">2</text>
<rect x="953.0" y="123.3" width="8" height="11" fill="#fff"/>
<text x="957.0" y="132.9" text-anchor="middle" style="font-family:'DejaVu Sans','Liberation Sans',sans-serif;font-size:11.11px">3</text>
<rect x="1008.4" y="145.4" width="8" height="11" fill="#fff"/>
<text x="1012.4" y="155.0" text-anchor="middle" style="font-family:'DejaVu Sans','Liberation Sans',sans-serif;font-size:11.11px">6</text>
<rect x="1060.0" y="175.6" width="8" height="11" fill="#fff"/>
<text x="1064.0" y="185.2" text-anchor="middle" style="font-family:'DejaVu Sans','Liberation Sans',sans-serif;font-size:11.11px">9</text>
<ellipse cx="948.6" cy="103.5" rx="8.9" ry="7.8" fill="none" stroke="#000" stroke-width="1.5"/>
<text x="948.6" y="106.5" text-anchor="middle" style="font-family:'DejaVu Sans Mono','Liberation Mono',monospace;font-size:8.33px">LM</text>
<ellipse cx="928.0" cy="145.6" rx="8.9" ry="7.8" fill="none" stroke="#000" stroke-width="1.5"/>
<text x="928.0" y="148.6" text-anchor="middle" style="font-family:'DejaVu Sans Mono','Liberation Mono',monospace;font-size:8.33px">RM</text>
<rect x="876.6" y="49.2" width="220.1" height="188.0" fill="none" stroke="#000" stroke-width="1.1"/>
<path d="M876.6 49.2v-1.8 M1096.7 49.2v-1.8" stroke="#000" stroke-width="1.1"/>
<text x="985.8" y="250.8" text-anchor="middle" style="font-family:'DejaVu Sans','Liberation Sans',sans-serif;font-size:11.11px">Hodograph (wind in kt, height in km)</text>
<text x="986.9" y="35.8" text-anchor="middle" style="font-family:'DejaVu Sans','Liberation Sans',sans-serif;font-size:15.28px;font-weight:bold" fill="#808080">TROPICALTIDBITS.COM</text>
<text x="876.9" y="285.7" xml:space="preserve" style="font-family:'DejaVu Sans Mono','Liberation Mono',monospace;font-size:13.89px;white-space:pre">SRH 0-1km:       62 <tspan style="font-family:'DejaVu Sans','Liberation Sans',sans-serif;font-style:italic;font-size:13.89px">m</tspan><tspan dy="-5" dx="0.8" style="font-family:'DejaVu Sans','Liberation Sans',sans-serif;font-size:9.72px;font-style:normal">2</tspan><tspan dy="5" style="font-family:'DejaVu Sans','Liberation Sans',sans-serif;font-style:italic;font-size:13.89px">s</tspan><tspan dy="-5" dx="0" style="font-family:'DejaVu Sans','Liberation Sans',sans-serif;font-size:9.72px;font-style:normal">−<tspan dx="1.4">2</tspan></tspan></text>
<text x="876.9" y="302.9" xml:space="preserve" style="font-family:'DejaVu Sans Mono','Liberation Mono',monospace;font-size:13.89px;white-space:pre">SRH 0-3km:      209 <tspan style="font-family:'DejaVu Sans','Liberation Sans',sans-serif;font-style:italic;font-size:13.89px">m</tspan><tspan dy="-5" dx="0.8" style="font-family:'DejaVu Sans','Liberation Sans',sans-serif;font-size:9.72px;font-style:normal">2</tspan><tspan dy="5" style="font-family:'DejaVu Sans','Liberation Sans',sans-serif;font-style:italic;font-size:13.89px">s</tspan><tspan dy="-5" dx="0" style="font-family:'DejaVu Sans','Liberation Sans',sans-serif;font-size:9.72px;font-style:normal">−<tspan dx="1.4">2</tspan></tspan></text>
<text x="876" y="322.3" xml:space="preserve" style="font-family:'DejaVu Sans Mono','Liberation Mono',monospace;font-size:13.89px;white-space:pre" fill="#000">SBCAPE:           0 J/kg</text>
<text x="876" y="338.9" xml:space="preserve" style="font-family:'DejaVu Sans Mono','Liberation Mono',monospace;font-size:13.89px;white-space:pre" fill="#000">MLCAPE:           0 J/kg</text>
<text x="876" y="356.3" xml:space="preserve" style="font-family:'DejaVu Sans Mono','Liberation Mono',monospace;font-size:13.89px;white-space:pre" fill="#000">MUCAPE:           0 J/kg</text>
<text x="876" y="373.7" xml:space="preserve" style="font-family:'DejaVu Sans Mono','Liberation Mono',monospace;font-size:13.89px;white-space:pre" fill="#000">SBCIN:            0 J/kg</text>
<text x="876" y="391.3" xml:space="preserve" style="font-family:'DejaVu Sans Mono','Liberation Mono',monospace;font-size:13.89px;white-space:pre" fill="#000">MLCIN:            0 J/kg</text>
<text x="876" y="408.6" xml:space="preserve" style="font-family:'DejaVu Sans Mono','Liberation Mono',monospace;font-size:13.89px;white-space:pre" fill="#000">DCAPE:            0 J/kg</text>
<text x="876" y="426.4" xml:space="preserve" style="font-family:'DejaVu Sans Mono','Liberation Mono',monospace;font-size:13.89px;white-space:pre" fill="#a52a2a">SHR 200-850mb:   97 kt</text>
<text x="876" y="443.5" xml:space="preserve" style="font-family:'DejaVu Sans Mono','Liberation Mono',monospace;font-size:13.89px;white-space:pre" fill="#8b5a0a">RH 300-850mb:    43 %</text>
<text x="876" y="461.2" xml:space="preserve" style="font-family:'DejaVu Sans Mono','Liberation Mono',monospace;font-size:13.89px;white-space:pre">PWAT:          0.37 in</text>
<rect x="892.5" y="500.5" width="204.1" height="165.0" fill="none" stroke="#000" stroke-width="1.1"/>
<text x="901.6" y="525.8" style="font-family:'DejaVu Sans','Liberation Sans',sans-serif;font-size:11.11px">400</text>
<text x="901.6" y="569.8" style="font-family:'DejaVu Sans','Liberation Sans',sans-serif;font-size:11.11px">600</text>
<text x="901.6" y="613.8" style="font-family:'DejaVu Sans','Liberation Sans',sans-serif;font-size:11.11px">800</text>
<text x="935.1" y="655.7" text-anchor="middle" style="font-family:'DejaVu Sans','Liberation Sans',sans-serif;font-size:11.11px">280</text>
<text x="996.3000000000001" y="655.7" text-anchor="middle" style="font-family:'DejaVu Sans','Liberation Sans',sans-serif;font-size:11.11px">300</text>
<text x="1057.6" y="655.7" text-anchor="middle" style="font-family:'DejaVu Sans','Liberation Sans',sans-serif;font-size:11.11px">320</text>
<path d="M892.5 522.5h5.4M892.5 566.5h5.4M892.5 610.5h5.4M892.5 654.5h5.4M934.5 665.5v-5.4M995.7 665.5v-5.4M1057.0 665.5v-5.4" stroke="#000" stroke-width="1.1" fill="none"/>
<text x="993.6" y="677.6" text-anchor="middle" style="font-family:'DejaVu Sans','Liberation Sans',sans-serif;font-size:11.11px">Equivalent Pot. Temperature (K)</text>
<g clip-path="url(#ct)"><path d="M941.2 652.2 L950.3 647.4 L957.8 642.6 L962.1 637.2 L964.0 631.3 L972.8 626.0 L985.6 620.4 L1000.6 615.3 L1012.4 609.9 L1019.8 604.1 L1025.2 596.0 L1030.0 587.0 L1031.6 581.0 L1032.2 578.0 L1031.3 570.8 L1033.7 564.8 L1038.5 556.4 L1043.9 547.9 L1046.3 540.7 L1048.7 532.3 L1052.9 523.9 L1059.0 515.5 L1065.6 508.8 L1073.4 503.7 L1080.0 500.8 L1084.0 499.3" fill="none" stroke="#2a9dbb" stroke-width="2.4" stroke-linejoin="round" stroke-linecap="round"/></g>
<text transform="translate(884.3 583) rotate(-90)" text-anchor="middle" style="font-family:'DejaVu Sans','Liberation Sans',sans-serif;font-size:11.11px">Pressure (hPa)</text>
<rect x="0" y="0" width="1133" height="1" fill="#a8a8a8"/><rect x="0" y="0" width="1" height="747" fill="#a8a8a8"/>
<rect x="1" y="1" width="1131" height="1" fill="#696969"/><rect x="1" y="1" width="1" height="745" fill="#696969"/>
<rect x="1" y="746" width="1132" height="1" fill="#e3e3e3"/><rect x="1132" y="1" width="1" height="746" fill="#e3e3e3"/>
</svg>
</body></html>
